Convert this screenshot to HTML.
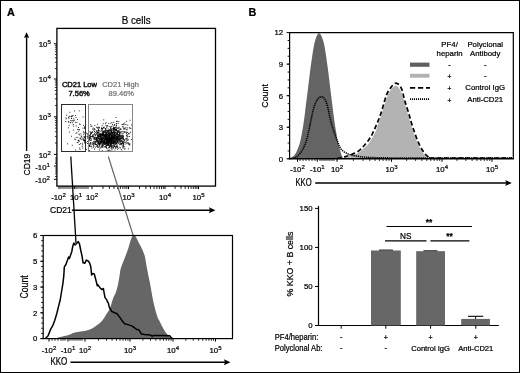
<!DOCTYPE html>
<html><head><meta charset="utf-8"><style>
html,body{margin:0;padding:0;background:#fff;}
body{width:520px;height:373px;overflow:hidden;}
svg{display:block;will-change:transform;}
text{font-family:"Liberation Sans",sans-serif;}
</style></head><body>
<svg width="520" height="373" viewBox="0 0 520 373" font-family="Liberation Sans, sans-serif">
<rect x="0.5" y="0.5" width="519" height="372" fill="#fff" stroke="#000" stroke-width="1"/>
<text x="7" y="15.5" font-size="10.8" text-anchor="start" font-weight="bold" fill="#000" stroke="#000" stroke-width="0.22" >A</text>
<text x="248.5" y="15.5" font-size="10.8" text-anchor="start" font-weight="bold" fill="#000" stroke="#000" stroke-width="0.22" >B</text>
<text transform="translate(121.7,23.5) scale(0.9,1)" font-size="10.9" text-anchor="start" font-weight="normal" fill="#000" stroke="#000" stroke-width="0.22">B cells</text>
<g fill="#000">
<rect x="104.3" y="140.8" width="0.9" height="0.9"/>
<rect x="104.6" y="136.3" width="0.9" height="0.9"/>
<rect x="98.5" y="136.8" width="0.9" height="0.9"/>
<rect x="116.1" y="140.3" width="0.9" height="0.9"/>
<rect x="115.4" y="139.3" width="0.9" height="0.9"/>
<rect x="109.9" y="139.0" width="0.9" height="0.9"/>
<rect x="92.2" y="142.6" width="0.9" height="0.9"/>
<rect x="110.9" y="140.7" width="0.9" height="0.9"/>
<rect x="92.0" y="128.6" width="0.9" height="0.9"/>
<rect x="98.8" y="135.5" width="0.9" height="0.9"/>
<rect x="109.1" y="137.8" width="0.9" height="0.9"/>
<rect x="111.0" y="134.5" width="0.9" height="0.9"/>
<rect x="109.2" y="140.1" width="0.9" height="0.9"/>
<rect x="100.8" y="147.3" width="0.9" height="0.9"/>
<rect x="111.3" y="144.5" width="0.9" height="0.9"/>
<rect x="101.2" y="134.0" width="0.9" height="0.9"/>
<rect x="103.5" y="137.4" width="0.9" height="0.9"/>
<rect x="111.9" y="139.3" width="0.9" height="0.9"/>
<rect x="102.7" y="132.8" width="0.9" height="0.9"/>
<rect x="102.0" y="144.6" width="0.9" height="0.9"/>
<rect x="99.6" y="139.3" width="0.9" height="0.9"/>
<rect x="110.2" y="130.0" width="0.9" height="0.9"/>
<rect x="106.9" y="145.1" width="0.9" height="0.9"/>
<rect x="89.2" y="136.3" width="0.9" height="0.9"/>
<rect x="105.6" y="133.6" width="0.9" height="0.9"/>
<rect x="110.8" y="137.7" width="0.9" height="0.9"/>
<rect x="93.9" y="142.5" width="0.9" height="0.9"/>
<rect x="112.3" y="143.1" width="0.9" height="0.9"/>
<rect x="118.9" y="140.0" width="0.9" height="0.9"/>
<rect x="107.5" y="131.0" width="0.9" height="0.9"/>
<rect x="111.8" y="134.7" width="0.9" height="0.9"/>
<rect x="102.6" y="131.2" width="0.9" height="0.9"/>
<rect x="98.2" y="135.1" width="0.9" height="0.9"/>
<rect x="117.6" y="127.0" width="0.9" height="0.9"/>
<rect x="94.0" y="139.3" width="0.9" height="0.9"/>
<rect x="118.9" y="141.1" width="0.9" height="0.9"/>
<rect x="90.2" y="124.4" width="0.9" height="0.9"/>
<rect x="109.6" y="134.0" width="0.9" height="0.9"/>
<rect x="96.9" y="143.3" width="0.9" height="0.9"/>
<rect x="116.0" y="138.8" width="0.9" height="0.9"/>
<rect x="108.6" y="140.3" width="0.9" height="0.9"/>
<rect x="120.2" y="141.3" width="0.9" height="0.9"/>
<rect x="111.0" y="141.0" width="0.9" height="0.9"/>
<rect x="93.0" y="144.9" width="0.9" height="0.9"/>
<rect x="114.7" y="140.9" width="0.9" height="0.9"/>
<rect x="89.5" y="134.6" width="0.9" height="0.9"/>
<rect x="113.7" y="128.2" width="0.9" height="0.9"/>
<rect x="104.9" y="143.5" width="0.9" height="0.9"/>
<rect x="95.2" y="146.7" width="0.9" height="0.9"/>
<rect x="111.2" y="137.2" width="0.9" height="0.9"/>
<rect x="109.3" y="141.5" width="0.9" height="0.9"/>
<rect x="107.5" y="144.2" width="0.9" height="0.9"/>
<rect x="100.8" y="135.8" width="0.9" height="0.9"/>
<rect x="115.5" y="138.1" width="0.9" height="0.9"/>
<rect x="98.9" y="143.1" width="0.9" height="0.9"/>
<rect x="119.1" y="135.6" width="0.9" height="0.9"/>
<rect x="94.6" y="137.3" width="0.9" height="0.9"/>
<rect x="105.2" y="136.4" width="0.9" height="0.9"/>
<rect x="118.6" y="132.5" width="0.9" height="0.9"/>
<rect x="117.3" y="131.2" width="0.9" height="0.9"/>
<rect x="99.7" y="141.4" width="0.9" height="0.9"/>
<rect x="116.2" y="142.6" width="0.9" height="0.9"/>
<rect x="109.5" y="138.8" width="0.9" height="0.9"/>
<rect x="107.8" y="141.1" width="0.9" height="0.9"/>
<rect x="105.0" y="139.5" width="0.9" height="0.9"/>
<rect x="111.4" y="138.0" width="0.9" height="0.9"/>
<rect x="113.1" y="141.1" width="0.9" height="0.9"/>
<rect x="123.8" y="139.8" width="0.9" height="0.9"/>
<rect x="102.8" y="136.0" width="0.9" height="0.9"/>
<rect x="106.4" y="143.0" width="0.9" height="0.9"/>
<rect x="103.6" y="140.1" width="0.9" height="0.9"/>
<rect x="122.3" y="124.2" width="0.9" height="0.9"/>
<rect x="96.8" y="139.3" width="0.9" height="0.9"/>
<rect x="109.9" y="139.3" width="0.9" height="0.9"/>
<rect x="102.8" y="141.5" width="0.9" height="0.9"/>
<rect x="108.9" y="135.2" width="0.9" height="0.9"/>
<rect x="127.4" y="139.9" width="0.9" height="0.9"/>
<rect x="101.7" y="137.5" width="0.9" height="0.9"/>
<rect x="104.6" y="137.7" width="0.9" height="0.9"/>
<rect x="115.2" y="131.7" width="0.9" height="0.9"/>
<rect x="105.9" y="143.1" width="0.9" height="0.9"/>
<rect x="113.9" y="146.1" width="0.9" height="0.9"/>
<rect x="91.9" y="136.1" width="0.9" height="0.9"/>
<rect x="103.6" y="141.4" width="0.9" height="0.9"/>
<rect x="115.9" y="123.5" width="0.9" height="0.9"/>
<rect x="115.9" y="130.2" width="0.9" height="0.9"/>
<rect x="112.4" y="129.9" width="0.9" height="0.9"/>
<rect x="108.0" y="144.5" width="0.9" height="0.9"/>
<rect x="105.2" y="139.0" width="0.9" height="0.9"/>
<rect x="113.4" y="138.8" width="0.9" height="0.9"/>
<rect x="105.7" y="146.3" width="0.9" height="0.9"/>
<rect x="115.5" y="136.4" width="0.9" height="0.9"/>
<rect x="130.1" y="131.8" width="0.9" height="0.9"/>
<rect x="114.4" y="136.6" width="0.9" height="0.9"/>
<rect x="107.6" y="141.8" width="0.9" height="0.9"/>
<rect x="108.4" y="141.4" width="0.9" height="0.9"/>
<rect x="93.4" y="129.8" width="0.9" height="0.9"/>
<rect x="111.8" y="132.8" width="0.9" height="0.9"/>
<rect x="97.7" y="130.1" width="0.9" height="0.9"/>
<rect x="117.4" y="142.0" width="0.9" height="0.9"/>
<rect x="119.2" y="132.9" width="0.9" height="0.9"/>
<rect x="106.5" y="131.8" width="0.9" height="0.9"/>
<rect x="113.1" y="146.6" width="0.9" height="0.9"/>
<rect x="98.8" y="146.4" width="0.9" height="0.9"/>
<rect x="115.0" y="137.0" width="0.9" height="0.9"/>
<rect x="89.5" y="145.6" width="0.9" height="0.9"/>
<rect x="105.7" y="134.7" width="0.9" height="0.9"/>
<rect x="109.9" y="140.2" width="0.9" height="0.9"/>
<rect x="119.4" y="132.5" width="0.9" height="0.9"/>
<rect x="116.3" y="146.0" width="0.9" height="0.9"/>
<rect x="119.0" y="137.0" width="0.9" height="0.9"/>
<rect x="100.1" y="143.5" width="0.9" height="0.9"/>
<rect x="107.5" y="138.7" width="0.9" height="0.9"/>
<rect x="118.7" y="136.6" width="0.9" height="0.9"/>
<rect x="86.7" y="135.9" width="0.9" height="0.9"/>
<rect x="90.6" y="142.4" width="0.9" height="0.9"/>
<rect x="109.2" y="134.7" width="0.9" height="0.9"/>
<rect x="106.4" y="142.5" width="0.9" height="0.9"/>
<rect x="107.2" y="145.2" width="0.9" height="0.9"/>
<rect x="106.0" y="143.6" width="0.9" height="0.9"/>
<rect x="119.3" y="146.7" width="0.9" height="0.9"/>
<rect x="100.7" y="142.8" width="0.9" height="0.9"/>
<rect x="90.4" y="132.1" width="0.9" height="0.9"/>
<rect x="89.6" y="143.8" width="0.9" height="0.9"/>
<rect x="95.9" y="137.9" width="0.9" height="0.9"/>
<rect x="104.8" y="137.8" width="0.9" height="0.9"/>
<rect x="101.4" y="139.3" width="0.9" height="0.9"/>
<rect x="121.9" y="138.2" width="0.9" height="0.9"/>
<rect x="111.1" y="143.4" width="0.9" height="0.9"/>
<rect x="104.8" y="131.2" width="0.9" height="0.9"/>
<rect x="101.7" y="143.8" width="0.9" height="0.9"/>
<rect x="92.3" y="134.8" width="0.9" height="0.9"/>
<rect x="115.2" y="142.3" width="0.9" height="0.9"/>
<rect x="106.6" y="142.3" width="0.9" height="0.9"/>
<rect x="107.9" y="131.6" width="0.9" height="0.9"/>
<rect x="93.1" y="134.5" width="0.9" height="0.9"/>
<rect x="114.4" y="134.9" width="0.9" height="0.9"/>
<rect x="98.7" y="133.8" width="0.9" height="0.9"/>
<rect x="93.3" y="137.4" width="0.9" height="0.9"/>
<rect x="96.4" y="140.0" width="0.9" height="0.9"/>
<rect x="101.0" y="127.5" width="0.9" height="0.9"/>
<rect x="112.7" y="136.5" width="0.9" height="0.9"/>
<rect x="87.3" y="133.3" width="0.9" height="0.9"/>
<rect x="109.0" y="135.5" width="0.9" height="0.9"/>
<rect x="113.2" y="142.0" width="0.9" height="0.9"/>
<rect x="112.2" y="139.8" width="0.9" height="0.9"/>
<rect x="118.0" y="141.6" width="0.9" height="0.9"/>
<rect x="110.4" y="126.7" width="0.9" height="0.9"/>
<rect x="114.2" y="145.1" width="0.9" height="0.9"/>
<rect x="103.9" y="135.5" width="0.9" height="0.9"/>
<rect x="123.2" y="128.5" width="0.9" height="0.9"/>
<rect x="110.5" y="151.1" width="0.9" height="0.9"/>
<rect x="98.5" y="141.7" width="0.9" height="0.9"/>
<rect x="122.7" y="137.4" width="0.9" height="0.9"/>
<rect x="111.3" y="142.9" width="0.9" height="0.9"/>
<rect x="98.7" y="137.5" width="0.9" height="0.9"/>
<rect x="109.0" y="142.5" width="0.9" height="0.9"/>
<rect x="106.2" y="136.9" width="0.9" height="0.9"/>
<rect x="97.8" y="136.1" width="0.9" height="0.9"/>
<rect x="114.2" y="138.5" width="0.9" height="0.9"/>
<rect x="99.2" y="133.5" width="0.9" height="0.9"/>
<rect x="129.4" y="144.2" width="0.9" height="0.9"/>
<rect x="112.0" y="124.0" width="0.9" height="0.9"/>
<rect x="111.8" y="140.6" width="0.9" height="0.9"/>
<rect x="121.0" y="140.3" width="0.9" height="0.9"/>
<rect x="105.9" y="140.8" width="0.9" height="0.9"/>
<rect x="89.8" y="143.6" width="0.9" height="0.9"/>
<rect x="109.3" y="134.2" width="0.9" height="0.9"/>
<rect x="117.9" y="147.8" width="0.9" height="0.9"/>
<rect x="94.4" y="134.4" width="0.9" height="0.9"/>
<rect x="109.0" y="139.0" width="0.9" height="0.9"/>
<rect x="103.1" y="132.7" width="0.9" height="0.9"/>
<rect x="124.7" y="143.6" width="0.9" height="0.9"/>
<rect x="96.2" y="130.7" width="0.9" height="0.9"/>
<rect x="121.1" y="143.3" width="0.9" height="0.9"/>
<rect x="122.2" y="142.4" width="0.9" height="0.9"/>
<rect x="99.0" y="139.4" width="0.9" height="0.9"/>
<rect x="87.9" y="134.0" width="0.9" height="0.9"/>
<rect x="106.0" y="140.8" width="0.9" height="0.9"/>
<rect x="100.2" y="137.3" width="0.9" height="0.9"/>
<rect x="110.4" y="140.0" width="0.9" height="0.9"/>
<rect x="112.0" y="139.1" width="0.9" height="0.9"/>
<rect x="103.7" y="142.3" width="0.9" height="0.9"/>
<rect x="106.9" y="133.5" width="0.9" height="0.9"/>
<rect x="101.1" y="138.0" width="0.9" height="0.9"/>
<rect x="105.6" y="138.8" width="0.9" height="0.9"/>
<rect x="106.5" y="138.9" width="0.9" height="0.9"/>
<rect x="105.3" y="131.2" width="0.9" height="0.9"/>
<rect x="110.1" y="143.7" width="0.9" height="0.9"/>
<rect x="110.2" y="137.0" width="0.9" height="0.9"/>
<rect x="110.3" y="132.8" width="0.9" height="0.9"/>
<rect x="90.2" y="138.3" width="0.9" height="0.9"/>
<rect x="98.5" y="142.0" width="0.9" height="0.9"/>
<rect x="97.2" y="123.8" width="0.9" height="0.9"/>
<rect x="97.6" y="146.5" width="0.9" height="0.9"/>
<rect x="103.2" y="130.6" width="0.9" height="0.9"/>
<rect x="99.9" y="140.8" width="0.9" height="0.9"/>
<rect x="110.8" y="139.0" width="0.9" height="0.9"/>
<rect x="119.3" y="141.8" width="0.9" height="0.9"/>
<rect x="106.3" y="141.2" width="0.9" height="0.9"/>
<rect x="120.7" y="143.2" width="0.9" height="0.9"/>
<rect x="115.3" y="132.2" width="0.9" height="0.9"/>
<rect x="105.2" y="141.9" width="0.9" height="0.9"/>
<rect x="104.0" y="143.8" width="0.9" height="0.9"/>
<rect x="111.6" y="142.9" width="0.9" height="0.9"/>
<rect x="117.2" y="136.8" width="0.9" height="0.9"/>
<rect x="103.5" y="142.7" width="0.9" height="0.9"/>
<rect x="114.9" y="138.0" width="0.9" height="0.9"/>
<rect x="96.5" y="139.0" width="0.9" height="0.9"/>
<rect x="109.6" y="144.1" width="0.9" height="0.9"/>
<rect x="113.2" y="138.1" width="0.9" height="0.9"/>
<rect x="113.8" y="140.9" width="0.9" height="0.9"/>
<rect x="108.3" y="138.3" width="0.9" height="0.9"/>
<rect x="104.4" y="141.7" width="0.9" height="0.9"/>
<rect x="97.4" y="134.6" width="0.9" height="0.9"/>
<rect x="106.5" y="130.1" width="0.9" height="0.9"/>
<rect x="102.8" y="127.2" width="0.9" height="0.9"/>
<rect x="100.6" y="141.1" width="0.9" height="0.9"/>
<rect x="111.4" y="137.7" width="0.9" height="0.9"/>
<rect x="104.5" y="130.3" width="0.9" height="0.9"/>
<rect x="122.2" y="140.8" width="0.9" height="0.9"/>
<rect x="115.9" y="133.2" width="0.9" height="0.9"/>
<rect x="104.9" y="128.2" width="0.9" height="0.9"/>
<rect x="113.2" y="143.0" width="0.9" height="0.9"/>
<rect x="90.2" y="137.7" width="0.9" height="0.9"/>
<rect x="111.9" y="128.5" width="0.9" height="0.9"/>
<rect x="90.8" y="132.2" width="0.9" height="0.9"/>
<rect x="101.1" y="130.4" width="0.9" height="0.9"/>
<rect x="106.8" y="139.3" width="0.9" height="0.9"/>
<rect x="112.0" y="141.8" width="0.9" height="0.9"/>
<rect x="119.4" y="144.3" width="0.9" height="0.9"/>
<rect x="95.2" y="135.3" width="0.9" height="0.9"/>
<rect x="97.4" y="132.2" width="0.9" height="0.9"/>
<rect x="105.8" y="138.0" width="0.9" height="0.9"/>
<rect x="110.7" y="129.4" width="0.9" height="0.9"/>
<rect x="95.9" y="137.9" width="0.9" height="0.9"/>
<rect x="104.8" y="136.3" width="0.9" height="0.9"/>
<rect x="106.0" y="133.9" width="0.9" height="0.9"/>
<rect x="112.5" y="139.9" width="0.9" height="0.9"/>
<rect x="105.7" y="134.4" width="0.9" height="0.9"/>
<rect x="105.0" y="123.3" width="0.9" height="0.9"/>
<rect x="98.1" y="138.2" width="0.9" height="0.9"/>
<rect x="93.6" y="139.1" width="0.9" height="0.9"/>
<rect x="107.8" y="130.6" width="0.9" height="0.9"/>
<rect x="104.3" y="136.3" width="0.9" height="0.9"/>
<rect x="110.5" y="141.3" width="0.9" height="0.9"/>
<rect x="106.2" y="133.4" width="0.9" height="0.9"/>
<rect x="105.3" y="137.6" width="0.9" height="0.9"/>
<rect x="112.8" y="139.6" width="0.9" height="0.9"/>
<rect x="100.3" y="130.7" width="0.9" height="0.9"/>
<rect x="103.3" y="134.0" width="0.9" height="0.9"/>
<rect x="96.9" y="137.4" width="0.9" height="0.9"/>
<rect x="102.3" y="138.6" width="0.9" height="0.9"/>
<rect x="111.0" y="135.8" width="0.9" height="0.9"/>
<rect x="126.5" y="136.3" width="0.9" height="0.9"/>
<rect x="116.0" y="138.7" width="0.9" height="0.9"/>
<rect x="116.1" y="125.2" width="0.9" height="0.9"/>
<rect x="100.0" y="139.3" width="0.9" height="0.9"/>
<rect x="111.7" y="150.6" width="0.9" height="0.9"/>
<rect x="109.3" y="144.9" width="0.9" height="0.9"/>
<rect x="113.1" y="143.1" width="0.9" height="0.9"/>
<rect x="110.9" y="137.2" width="0.9" height="0.9"/>
<rect x="110.9" y="132.2" width="0.9" height="0.9"/>
<rect x="116.7" y="132.5" width="0.9" height="0.9"/>
<rect x="108.6" y="149.5" width="0.9" height="0.9"/>
<rect x="104.6" y="138.1" width="0.9" height="0.9"/>
<rect x="116.5" y="138.1" width="0.9" height="0.9"/>
<rect x="99.6" y="139.4" width="0.9" height="0.9"/>
<rect x="111.5" y="141.8" width="0.9" height="0.9"/>
<rect x="99.9" y="147.5" width="0.9" height="0.9"/>
<rect x="120.8" y="138.1" width="0.9" height="0.9"/>
<rect x="108.8" y="135.7" width="0.9" height="0.9"/>
<rect x="118.7" y="134.2" width="0.9" height="0.9"/>
<rect x="112.3" y="135.4" width="0.9" height="0.9"/>
<rect x="100.5" y="141.9" width="0.9" height="0.9"/>
<rect x="118.0" y="137.9" width="0.9" height="0.9"/>
<rect x="100.7" y="142.4" width="0.9" height="0.9"/>
<rect x="106.1" y="139.7" width="0.9" height="0.9"/>
<rect x="119.6" y="144.1" width="0.9" height="0.9"/>
<rect x="102.0" y="150.3" width="0.9" height="0.9"/>
<rect x="106.5" y="142.2" width="0.9" height="0.9"/>
<rect x="100.9" y="137.8" width="0.9" height="0.9"/>
<rect x="91.5" y="147.6" width="0.9" height="0.9"/>
<rect x="118.2" y="131.4" width="0.9" height="0.9"/>
<rect x="93.6" y="129.2" width="0.9" height="0.9"/>
<rect x="116.6" y="135.5" width="0.9" height="0.9"/>
<rect x="106.0" y="136.3" width="0.9" height="0.9"/>
<rect x="105.5" y="132.1" width="0.9" height="0.9"/>
<rect x="106.7" y="130.2" width="0.9" height="0.9"/>
<rect x="105.9" y="139.7" width="0.9" height="0.9"/>
<rect x="110.5" y="136.7" width="0.9" height="0.9"/>
<rect x="98.7" y="138.9" width="0.9" height="0.9"/>
<rect x="102.3" y="146.5" width="0.9" height="0.9"/>
<rect x="113.1" y="137.4" width="0.9" height="0.9"/>
<rect x="102.4" y="134.2" width="0.9" height="0.9"/>
<rect x="98.4" y="136.1" width="0.9" height="0.9"/>
<rect x="109.0" y="140.8" width="0.9" height="0.9"/>
<rect x="111.4" y="149.3" width="0.9" height="0.9"/>
<rect x="100.4" y="138.1" width="0.9" height="0.9"/>
<rect x="130.5" y="127.9" width="0.9" height="0.9"/>
<rect x="102.0" y="138.9" width="0.9" height="0.9"/>
<rect x="107.8" y="140.2" width="0.9" height="0.9"/>
<rect x="104.4" y="140.0" width="0.9" height="0.9"/>
<rect x="107.0" y="142.2" width="0.9" height="0.9"/>
<rect x="90.2" y="133.2" width="0.9" height="0.9"/>
<rect x="106.5" y="132.4" width="0.9" height="0.9"/>
<rect x="97.5" y="141.4" width="0.9" height="0.9"/>
<rect x="100.9" y="141.4" width="0.9" height="0.9"/>
<rect x="112.9" y="139.7" width="0.9" height="0.9"/>
<rect x="110.9" y="137.4" width="0.9" height="0.9"/>
<rect x="94.4" y="137.8" width="0.9" height="0.9"/>
<rect x="110.4" y="135.1" width="0.9" height="0.9"/>
<rect x="105.6" y="142.0" width="0.9" height="0.9"/>
<rect x="98.9" y="141.5" width="0.9" height="0.9"/>
<rect x="122.5" y="135.0" width="0.9" height="0.9"/>
<rect x="107.8" y="137.2" width="0.9" height="0.9"/>
<rect x="119.7" y="139.7" width="0.9" height="0.9"/>
<rect x="114.2" y="134.3" width="0.9" height="0.9"/>
<rect x="106.4" y="137.9" width="0.9" height="0.9"/>
<rect x="91.2" y="145.8" width="0.9" height="0.9"/>
<rect x="114.2" y="128.6" width="0.9" height="0.9"/>
<rect x="112.9" y="137.3" width="0.9" height="0.9"/>
<rect x="110.4" y="140.0" width="0.9" height="0.9"/>
<rect x="93.6" y="136.9" width="0.9" height="0.9"/>
<rect x="119.3" y="134.9" width="0.9" height="0.9"/>
<rect x="97.7" y="130.7" width="0.9" height="0.9"/>
<rect x="96.0" y="139.8" width="0.9" height="0.9"/>
<rect x="121.1" y="140.3" width="0.9" height="0.9"/>
<rect x="108.6" y="150.1" width="0.9" height="0.9"/>
<rect x="102.0" y="134.4" width="0.9" height="0.9"/>
<rect x="111.0" y="141.0" width="0.9" height="0.9"/>
<rect x="97.8" y="131.7" width="0.9" height="0.9"/>
<rect x="109.0" y="139.3" width="0.9" height="0.9"/>
<rect x="95.3" y="136.9" width="0.9" height="0.9"/>
<rect x="101.8" y="140.5" width="0.9" height="0.9"/>
<rect x="105.5" y="137.5" width="0.9" height="0.9"/>
<rect x="103.5" y="143.7" width="0.9" height="0.9"/>
<rect x="118.5" y="136.0" width="0.9" height="0.9"/>
<rect x="113.8" y="133.9" width="0.9" height="0.9"/>
<rect x="107.1" y="142.0" width="0.9" height="0.9"/>
<rect x="119.5" y="135.9" width="0.9" height="0.9"/>
<rect x="105.9" y="139.1" width="0.9" height="0.9"/>
<rect x="93.6" y="138.1" width="0.9" height="0.9"/>
<rect x="100.7" y="140.0" width="0.9" height="0.9"/>
<rect x="96.8" y="127.3" width="0.9" height="0.9"/>
<rect x="106.8" y="139.4" width="0.9" height="0.9"/>
<rect x="101.8" y="142.8" width="0.9" height="0.9"/>
<rect x="104.2" y="134.7" width="0.9" height="0.9"/>
<rect x="110.6" y="129.5" width="0.9" height="0.9"/>
<rect x="100.7" y="137.9" width="0.9" height="0.9"/>
<rect x="113.8" y="137.1" width="0.9" height="0.9"/>
<rect x="109.2" y="134.5" width="0.9" height="0.9"/>
<rect x="109.1" y="147.0" width="0.9" height="0.9"/>
<rect x="100.6" y="150.8" width="0.9" height="0.9"/>
<rect x="101.0" y="138.1" width="0.9" height="0.9"/>
<rect x="108.0" y="143.5" width="0.9" height="0.9"/>
<rect x="95.9" y="126.7" width="0.9" height="0.9"/>
<rect x="111.7" y="142.3" width="0.9" height="0.9"/>
<rect x="108.3" y="139.4" width="0.9" height="0.9"/>
<rect x="114.5" y="140.0" width="0.9" height="0.9"/>
<rect x="120.8" y="131.3" width="0.9" height="0.9"/>
<rect x="103.3" y="119.4" width="0.9" height="0.9"/>
<rect x="113.5" y="136.0" width="0.9" height="0.9"/>
<rect x="114.4" y="149.6" width="0.9" height="0.9"/>
<rect x="106.4" y="136.6" width="0.9" height="0.9"/>
<rect x="102.2" y="133.5" width="0.9" height="0.9"/>
<rect x="101.1" y="141.5" width="0.9" height="0.9"/>
<rect x="106.8" y="138.4" width="0.9" height="0.9"/>
<rect x="105.0" y="142.9" width="0.9" height="0.9"/>
<rect x="110.7" y="137.2" width="0.9" height="0.9"/>
<rect x="112.2" y="137.2" width="0.9" height="0.9"/>
<rect x="96.6" y="145.9" width="0.9" height="0.9"/>
<rect x="110.5" y="132.8" width="0.9" height="0.9"/>
<rect x="115.8" y="139.9" width="0.9" height="0.9"/>
<rect x="93.0" y="146.7" width="0.9" height="0.9"/>
<rect x="109.4" y="142.8" width="0.9" height="0.9"/>
<rect x="108.2" y="137.2" width="0.9" height="0.9"/>
<rect x="93.2" y="143.2" width="0.9" height="0.9"/>
<rect x="106.8" y="136.5" width="0.9" height="0.9"/>
<rect x="109.5" y="138.4" width="0.9" height="0.9"/>
<rect x="112.3" y="136.0" width="0.9" height="0.9"/>
<rect x="106.2" y="126.4" width="0.9" height="0.9"/>
<rect x="102.9" y="141.6" width="0.9" height="0.9"/>
<rect x="118.0" y="136.0" width="0.9" height="0.9"/>
<rect x="105.5" y="146.6" width="0.9" height="0.9"/>
<rect x="103.7" y="142.0" width="0.9" height="0.9"/>
<rect x="120.9" y="138.2" width="0.9" height="0.9"/>
<rect x="117.1" y="134.2" width="0.9" height="0.9"/>
<rect x="108.3" y="137.6" width="0.9" height="0.9"/>
<rect x="107.5" y="144.1" width="0.9" height="0.9"/>
<rect x="127.1" y="134.4" width="0.9" height="0.9"/>
<rect x="101.6" y="140.7" width="0.9" height="0.9"/>
<rect x="97.4" y="140.7" width="0.9" height="0.9"/>
<rect x="111.4" y="136.5" width="0.9" height="0.9"/>
<rect x="111.1" y="129.6" width="0.9" height="0.9"/>
<rect x="113.0" y="129.7" width="0.9" height="0.9"/>
<rect x="100.5" y="135.0" width="0.9" height="0.9"/>
<rect x="103.1" y="142.6" width="0.9" height="0.9"/>
<rect x="107.2" y="135.9" width="0.9" height="0.9"/>
<rect x="111.2" y="146.5" width="0.9" height="0.9"/>
<rect x="106.6" y="140.0" width="0.9" height="0.9"/>
<rect x="117.2" y="139.4" width="0.9" height="0.9"/>
<rect x="125.5" y="127.3" width="0.9" height="0.9"/>
<rect x="106.2" y="140.3" width="0.9" height="0.9"/>
<rect x="114.8" y="141.6" width="0.9" height="0.9"/>
<rect x="104.2" y="132.3" width="0.9" height="0.9"/>
<rect x="107.4" y="143.6" width="0.9" height="0.9"/>
<rect x="97.1" y="132.5" width="0.9" height="0.9"/>
<rect x="106.3" y="127.5" width="0.9" height="0.9"/>
<rect x="104.3" y="135.6" width="0.9" height="0.9"/>
<rect x="110.4" y="134.2" width="0.9" height="0.9"/>
<rect x="98.9" y="135.9" width="0.9" height="0.9"/>
<rect x="106.1" y="134.4" width="0.9" height="0.9"/>
<rect x="106.6" y="142.1" width="0.9" height="0.9"/>
<rect x="116.7" y="147.2" width="0.9" height="0.9"/>
<rect x="99.8" y="135.7" width="0.9" height="0.9"/>
<rect x="100.3" y="137.8" width="0.9" height="0.9"/>
<rect x="111.0" y="130.7" width="0.9" height="0.9"/>
<rect x="110.5" y="137.9" width="0.9" height="0.9"/>
<rect x="90.8" y="139.6" width="0.9" height="0.9"/>
<rect x="116.8" y="127.9" width="0.9" height="0.9"/>
<rect x="113.4" y="139.1" width="0.9" height="0.9"/>
<rect x="110.6" y="140.4" width="0.9" height="0.9"/>
<rect x="117.7" y="136.8" width="0.9" height="0.9"/>
<rect x="114.0" y="135.8" width="0.9" height="0.9"/>
<rect x="112.8" y="133.6" width="0.9" height="0.9"/>
<rect x="105.6" y="147.3" width="0.9" height="0.9"/>
<rect x="110.3" y="137.1" width="0.9" height="0.9"/>
<rect x="96.7" y="133.7" width="0.9" height="0.9"/>
<rect x="108.2" y="143.1" width="0.9" height="0.9"/>
<rect x="110.2" y="140.8" width="0.9" height="0.9"/>
<rect x="106.1" y="145.3" width="0.9" height="0.9"/>
<rect x="103.1" y="135.0" width="0.9" height="0.9"/>
<rect x="114.1" y="138.3" width="0.9" height="0.9"/>
<rect x="104.1" y="134.9" width="0.9" height="0.9"/>
<rect x="104.3" y="141.4" width="0.9" height="0.9"/>
<rect x="109.5" y="131.5" width="0.9" height="0.9"/>
<rect x="110.2" y="139.0" width="0.9" height="0.9"/>
<rect x="97.9" y="142.2" width="0.9" height="0.9"/>
<rect x="104.1" y="136.2" width="0.9" height="0.9"/>
<rect x="113.3" y="145.1" width="0.9" height="0.9"/>
<rect x="100.6" y="140.4" width="0.9" height="0.9"/>
<rect x="99.0" y="150.5" width="0.9" height="0.9"/>
<rect x="102.3" y="144.5" width="0.9" height="0.9"/>
<rect x="100.9" y="142.4" width="0.9" height="0.9"/>
<rect x="125.6" y="124.3" width="0.9" height="0.9"/>
<rect x="102.8" y="140.7" width="0.9" height="0.9"/>
<rect x="105.7" y="134.4" width="0.9" height="0.9"/>
<rect x="125.0" y="138.4" width="0.9" height="0.9"/>
<rect x="92.4" y="142.6" width="0.9" height="0.9"/>
<rect x="91.7" y="144.2" width="0.9" height="0.9"/>
<rect x="101.5" y="138.8" width="0.9" height="0.9"/>
<rect x="117.3" y="138.6" width="0.9" height="0.9"/>
<rect x="94.5" y="128.8" width="0.9" height="0.9"/>
<rect x="116.7" y="142.0" width="0.9" height="0.9"/>
<rect x="99.5" y="142.6" width="0.9" height="0.9"/>
<rect x="110.8" y="141.5" width="0.9" height="0.9"/>
<rect x="87.1" y="136.4" width="0.9" height="0.9"/>
<rect x="114.2" y="142.0" width="0.9" height="0.9"/>
<rect x="114.1" y="124.7" width="0.9" height="0.9"/>
<rect x="108.0" y="140.7" width="0.9" height="0.9"/>
<rect x="128.4" y="132.8" width="0.9" height="0.9"/>
<rect x="103.7" y="138.2" width="0.9" height="0.9"/>
<rect x="114.1" y="135.6" width="0.9" height="0.9"/>
<rect x="116.4" y="133.7" width="0.9" height="0.9"/>
<rect x="108.8" y="135.2" width="0.9" height="0.9"/>
<rect x="107.9" y="134.3" width="0.9" height="0.9"/>
<rect x="92.8" y="143.9" width="0.9" height="0.9"/>
<rect x="109.1" y="135.0" width="0.9" height="0.9"/>
<rect x="108.2" y="143.3" width="0.9" height="0.9"/>
<rect x="98.1" y="137.4" width="0.9" height="0.9"/>
<rect x="111.1" y="140.8" width="0.9" height="0.9"/>
<rect x="103.6" y="126.6" width="0.9" height="0.9"/>
<rect x="117.2" y="139.8" width="0.9" height="0.9"/>
<rect x="106.6" y="136.5" width="0.9" height="0.9"/>
<rect x="108.8" y="135.7" width="0.9" height="0.9"/>
<rect x="97.7" y="134.0" width="0.9" height="0.9"/>
<rect x="101.4" y="134.7" width="0.9" height="0.9"/>
<rect x="96.5" y="141.4" width="0.9" height="0.9"/>
<rect x="95.2" y="141.6" width="0.9" height="0.9"/>
<rect x="97.8" y="139.9" width="0.9" height="0.9"/>
<rect x="118.3" y="139.1" width="0.9" height="0.9"/>
<rect x="100.2" y="138.3" width="0.9" height="0.9"/>
<rect x="107.8" y="128.6" width="0.9" height="0.9"/>
<rect x="101.3" y="138.9" width="0.9" height="0.9"/>
<rect x="102.5" y="138.4" width="0.9" height="0.9"/>
<rect x="112.8" y="142.1" width="0.9" height="0.9"/>
<rect x="114.3" y="141.2" width="0.9" height="0.9"/>
<rect x="104.0" y="137.9" width="0.9" height="0.9"/>
<rect x="104.2" y="136.3" width="0.9" height="0.9"/>
<rect x="105.0" y="128.7" width="0.9" height="0.9"/>
<rect x="103.6" y="137.9" width="0.9" height="0.9"/>
<rect x="98.1" y="137.9" width="0.9" height="0.9"/>
<rect x="110.9" y="137.1" width="0.9" height="0.9"/>
<rect x="124.4" y="123.9" width="0.9" height="0.9"/>
<rect x="104.7" y="128.1" width="0.9" height="0.9"/>
<rect x="111.0" y="136.4" width="0.9" height="0.9"/>
<rect x="111.2" y="125.9" width="0.9" height="0.9"/>
<rect x="113.8" y="140.0" width="0.9" height="0.9"/>
<rect x="106.7" y="134.8" width="0.9" height="0.9"/>
<rect x="112.0" y="135.4" width="0.9" height="0.9"/>
<rect x="108.4" y="135.2" width="0.9" height="0.9"/>
<rect x="87.2" y="137.8" width="0.9" height="0.9"/>
<rect x="108.2" y="142.1" width="0.9" height="0.9"/>
<rect x="99.0" y="137.8" width="0.9" height="0.9"/>
<rect x="111.8" y="138.8" width="0.9" height="0.9"/>
<rect x="117.2" y="148.8" width="0.9" height="0.9"/>
<rect x="98.7" y="127.6" width="0.9" height="0.9"/>
<rect x="113.9" y="146.3" width="0.9" height="0.9"/>
<rect x="114.4" y="142.4" width="0.9" height="0.9"/>
<rect x="101.2" y="134.1" width="0.9" height="0.9"/>
<rect x="114.1" y="133.1" width="0.9" height="0.9"/>
<rect x="90.9" y="132.6" width="0.9" height="0.9"/>
<rect x="127.9" y="148.4" width="0.9" height="0.9"/>
<rect x="100.6" y="134.1" width="0.9" height="0.9"/>
<rect x="108.5" y="134.0" width="0.9" height="0.9"/>
<rect x="117.8" y="137.6" width="0.9" height="0.9"/>
<rect x="97.2" y="145.1" width="0.9" height="0.9"/>
<rect x="101.5" y="139.2" width="0.9" height="0.9"/>
<rect x="106.4" y="136.3" width="0.9" height="0.9"/>
<rect x="109.3" y="134.3" width="0.9" height="0.9"/>
<rect x="90.6" y="126.1" width="0.9" height="0.9"/>
<rect x="95.6" y="133.9" width="0.9" height="0.9"/>
<rect x="106.3" y="138.3" width="0.9" height="0.9"/>
<rect x="111.3" y="138.6" width="0.9" height="0.9"/>
<rect x="99.7" y="134.2" width="0.9" height="0.9"/>
<rect x="88.3" y="137.1" width="0.9" height="0.9"/>
<rect x="110.7" y="140.9" width="0.9" height="0.9"/>
<rect x="105.5" y="137.1" width="0.9" height="0.9"/>
<rect x="114.6" y="138.1" width="0.9" height="0.9"/>
<rect x="112.8" y="141.1" width="0.9" height="0.9"/>
<rect x="108.3" y="145.1" width="0.9" height="0.9"/>
<rect x="101.6" y="136.1" width="0.9" height="0.9"/>
<rect x="99.6" y="133.7" width="0.9" height="0.9"/>
<rect x="119.9" y="147.5" width="0.9" height="0.9"/>
<rect x="106.7" y="141.1" width="0.9" height="0.9"/>
<rect x="116.6" y="142.4" width="0.9" height="0.9"/>
<rect x="116.9" y="131.2" width="0.9" height="0.9"/>
<rect x="101.0" y="140.4" width="0.9" height="0.9"/>
<rect x="118.8" y="138.6" width="0.9" height="0.9"/>
<rect x="99.1" y="136.1" width="0.9" height="0.9"/>
<rect x="100.8" y="133.4" width="0.9" height="0.9"/>
<rect x="119.4" y="134.6" width="0.9" height="0.9"/>
<rect x="106.7" y="149.7" width="0.9" height="0.9"/>
<rect x="116.7" y="139.8" width="0.9" height="0.9"/>
<rect x="101.2" y="140.2" width="0.9" height="0.9"/>
<rect x="120.4" y="141.4" width="0.9" height="0.9"/>
<rect x="117.3" y="138.5" width="0.9" height="0.9"/>
<rect x="110.9" y="136.9" width="0.9" height="0.9"/>
<rect x="110.2" y="145.0" width="0.9" height="0.9"/>
<rect x="94.2" y="137.7" width="0.9" height="0.9"/>
<rect x="108.6" y="134.9" width="0.9" height="0.9"/>
<rect x="103.9" y="142.2" width="0.9" height="0.9"/>
<rect x="123.7" y="141.4" width="0.9" height="0.9"/>
<rect x="109.3" y="129.6" width="0.9" height="0.9"/>
<rect x="123.1" y="138.4" width="0.9" height="0.9"/>
<rect x="106.2" y="132.0" width="0.9" height="0.9"/>
<rect x="106.0" y="132.1" width="0.9" height="0.9"/>
<rect x="107.1" y="140.5" width="0.9" height="0.9"/>
<rect x="106.8" y="139.5" width="0.9" height="0.9"/>
<rect x="99.2" y="145.7" width="0.9" height="0.9"/>
<rect x="100.9" y="128.2" width="0.9" height="0.9"/>
<rect x="104.9" y="133.9" width="0.9" height="0.9"/>
<rect x="97.8" y="136.1" width="0.9" height="0.9"/>
<rect x="109.0" y="131.6" width="0.9" height="0.9"/>
<rect x="105.3" y="145.7" width="0.9" height="0.9"/>
<rect x="112.4" y="137.2" width="0.9" height="0.9"/>
<rect x="107.6" y="137.4" width="0.9" height="0.9"/>
<rect x="106.1" y="142.0" width="0.9" height="0.9"/>
<rect x="105.7" y="125.0" width="0.9" height="0.9"/>
<rect x="106.3" y="133.2" width="0.9" height="0.9"/>
<rect x="112.1" y="134.7" width="0.9" height="0.9"/>
<rect x="107.8" y="149.8" width="0.9" height="0.9"/>
<rect x="97.5" y="131.9" width="0.9" height="0.9"/>
<rect x="94.4" y="125.1" width="0.9" height="0.9"/>
<rect x="90.3" y="140.0" width="0.9" height="0.9"/>
<rect x="101.0" y="127.9" width="0.9" height="0.9"/>
<rect x="93.7" y="141.3" width="0.9" height="0.9"/>
<rect x="99.8" y="136.0" width="0.9" height="0.9"/>
<rect x="109.3" y="145.3" width="0.9" height="0.9"/>
<rect x="123.2" y="143.6" width="0.9" height="0.9"/>
<rect x="107.7" y="139.0" width="0.9" height="0.9"/>
<rect x="122.0" y="145.7" width="0.9" height="0.9"/>
<rect x="103.8" y="140.5" width="0.9" height="0.9"/>
<rect x="109.0" y="138.3" width="0.9" height="0.9"/>
<rect x="102.2" y="130.8" width="0.9" height="0.9"/>
<rect x="101.9" y="129.7" width="0.9" height="0.9"/>
<rect x="117.0" y="140.9" width="0.9" height="0.9"/>
<rect x="96.1" y="145.5" width="0.9" height="0.9"/>
<rect x="114.2" y="127.7" width="0.9" height="0.9"/>
<rect x="122.3" y="142.4" width="0.9" height="0.9"/>
<rect x="124.3" y="131.4" width="0.9" height="0.9"/>
<rect x="111.1" y="140.3" width="0.9" height="0.9"/>
<rect x="108.2" y="138.9" width="0.9" height="0.9"/>
<rect x="115.6" y="129.9" width="0.9" height="0.9"/>
<rect x="95.8" y="130.5" width="0.9" height="0.9"/>
<rect x="101.7" y="134.7" width="0.9" height="0.9"/>
<rect x="109.7" y="139.4" width="0.9" height="0.9"/>
<rect x="106.8" y="134.3" width="0.9" height="0.9"/>
<rect x="102.7" y="143.1" width="0.9" height="0.9"/>
<rect x="113.1" y="138.5" width="0.9" height="0.9"/>
<rect x="103.7" y="146.4" width="0.9" height="0.9"/>
<rect x="101.4" y="141.5" width="0.9" height="0.9"/>
<rect x="116.4" y="136.6" width="0.9" height="0.9"/>
<rect x="113.6" y="132.0" width="0.9" height="0.9"/>
<rect x="115.2" y="139.1" width="0.9" height="0.9"/>
<rect x="92.9" y="141.6" width="0.9" height="0.9"/>
<rect x="98.8" y="144.9" width="0.9" height="0.9"/>
<rect x="100.7" y="137.1" width="0.9" height="0.9"/>
<rect x="108.9" y="136.2" width="0.9" height="0.9"/>
<rect x="108.7" y="135.0" width="0.9" height="0.9"/>
<rect x="112.3" y="138.0" width="0.9" height="0.9"/>
<rect x="108.3" y="123.1" width="0.9" height="0.9"/>
<rect x="116.5" y="138.2" width="0.9" height="0.9"/>
<rect x="91.2" y="138.5" width="0.9" height="0.9"/>
<rect x="110.5" y="143.8" width="0.9" height="0.9"/>
<rect x="97.2" y="146.4" width="0.9" height="0.9"/>
<rect x="105.1" y="150.9" width="0.9" height="0.9"/>
<rect x="105.2" y="141.7" width="0.9" height="0.9"/>
<rect x="103.3" y="132.0" width="0.9" height="0.9"/>
<rect x="115.9" y="142.9" width="0.9" height="0.9"/>
<rect x="119.7" y="142.6" width="0.9" height="0.9"/>
<rect x="101.6" y="129.0" width="0.9" height="0.9"/>
<rect x="100.9" y="134.4" width="0.9" height="0.9"/>
<rect x="99.5" y="141.1" width="0.9" height="0.9"/>
<rect x="109.3" y="136.5" width="0.9" height="0.9"/>
<rect x="108.0" y="137.2" width="0.9" height="0.9"/>
<rect x="108.3" y="142.1" width="0.9" height="0.9"/>
<rect x="114.8" y="134.3" width="0.9" height="0.9"/>
<rect x="93.5" y="145.7" width="0.9" height="0.9"/>
<rect x="107.5" y="144.0" width="0.9" height="0.9"/>
<rect x="92.4" y="136.2" width="0.9" height="0.9"/>
<rect x="106.7" y="130.2" width="0.9" height="0.9"/>
<rect x="102.1" y="141.9" width="0.9" height="0.9"/>
<rect x="115.8" y="146.6" width="0.9" height="0.9"/>
<rect x="99.1" y="130.4" width="0.9" height="0.9"/>
<rect x="111.0" y="143.1" width="0.9" height="0.9"/>
<rect x="108.2" y="131.0" width="0.9" height="0.9"/>
<rect x="113.2" y="142.3" width="0.9" height="0.9"/>
<rect x="111.3" y="135.4" width="0.9" height="0.9"/>
<rect x="109.1" y="142.3" width="0.9" height="0.9"/>
<rect x="101.7" y="128.0" width="0.9" height="0.9"/>
<rect x="109.3" y="140.6" width="0.9" height="0.9"/>
<rect x="106.6" y="142.8" width="0.9" height="0.9"/>
<rect x="101.5" y="137.6" width="0.9" height="0.9"/>
<rect x="103.9" y="141.1" width="0.9" height="0.9"/>
<rect x="120.2" y="136.6" width="0.9" height="0.9"/>
<rect x="124.2" y="146.3" width="0.9" height="0.9"/>
<rect x="113.3" y="141.2" width="0.9" height="0.9"/>
<rect x="121.7" y="137.0" width="0.9" height="0.9"/>
<rect x="105.5" y="132.3" width="0.9" height="0.9"/>
<rect x="110.6" y="145.3" width="0.9" height="0.9"/>
<rect x="111.1" y="140.3" width="0.9" height="0.9"/>
<rect x="104.8" y="138.9" width="0.9" height="0.9"/>
<rect x="94.2" y="143.7" width="0.9" height="0.9"/>
<rect x="103.0" y="132.0" width="0.9" height="0.9"/>
<rect x="100.0" y="133.5" width="0.9" height="0.9"/>
<rect x="113.9" y="143.7" width="0.9" height="0.9"/>
<rect x="94.8" y="143.0" width="0.9" height="0.9"/>
<rect x="114.1" y="134.9" width="0.9" height="0.9"/>
<rect x="93.7" y="134.0" width="0.9" height="0.9"/>
<rect x="101.0" y="139.8" width="0.9" height="0.9"/>
<rect x="103.4" y="127.0" width="0.9" height="0.9"/>
<rect x="108.5" y="129.7" width="0.9" height="0.9"/>
<rect x="114.3" y="131.5" width="0.9" height="0.9"/>
<rect x="100.5" y="133.4" width="0.9" height="0.9"/>
<rect x="101.8" y="145.0" width="0.9" height="0.9"/>
<rect x="113.8" y="141.2" width="0.9" height="0.9"/>
<rect x="109.2" y="129.6" width="0.9" height="0.9"/>
<rect x="102.0" y="135.0" width="0.9" height="0.9"/>
<rect x="98.1" y="140.7" width="0.9" height="0.9"/>
<rect x="100.1" y="134.2" width="0.9" height="0.9"/>
<rect x="97.5" y="126.9" width="0.9" height="0.9"/>
<rect x="111.6" y="145.2" width="0.9" height="0.9"/>
<rect x="108.0" y="132.7" width="0.9" height="0.9"/>
<rect x="117.0" y="139.6" width="0.9" height="0.9"/>
<rect x="114.5" y="146.0" width="0.9" height="0.9"/>
<rect x="116.2" y="135.6" width="0.9" height="0.9"/>
<rect x="115.6" y="142.2" width="0.9" height="0.9"/>
<rect x="93.3" y="135.8" width="0.9" height="0.9"/>
<rect x="94.3" y="137.4" width="0.9" height="0.9"/>
<rect x="111.5" y="132.2" width="0.9" height="0.9"/>
<rect x="88.8" y="145.0" width="0.9" height="0.9"/>
<rect x="109.7" y="145.9" width="0.9" height="0.9"/>
<rect x="95.1" y="143.7" width="0.9" height="0.9"/>
<rect x="124.3" y="148.8" width="0.9" height="0.9"/>
<rect x="104.7" y="139.5" width="0.9" height="0.9"/>
<rect x="105.2" y="143.4" width="0.9" height="0.9"/>
<rect x="115.4" y="138.5" width="0.9" height="0.9"/>
<rect x="94.8" y="142.0" width="0.9" height="0.9"/>
<rect x="102.5" y="141.4" width="0.9" height="0.9"/>
<rect x="108.8" y="146.8" width="0.9" height="0.9"/>
<rect x="116.3" y="135.6" width="0.9" height="0.9"/>
<rect x="109.5" y="147.5" width="0.9" height="0.9"/>
<rect x="101.9" y="140.3" width="0.9" height="0.9"/>
<rect x="116.7" y="144.8" width="0.9" height="0.9"/>
<rect x="111.0" y="130.9" width="0.9" height="0.9"/>
<rect x="95.7" y="139.3" width="0.9" height="0.9"/>
<rect x="99.1" y="144.1" width="0.9" height="0.9"/>
<rect x="113.1" y="129.0" width="0.9" height="0.9"/>
<rect x="99.5" y="138.9" width="0.9" height="0.9"/>
<rect x="102.3" y="137.2" width="0.9" height="0.9"/>
<rect x="110.5" y="133.6" width="0.9" height="0.9"/>
<rect x="110.5" y="134.6" width="0.9" height="0.9"/>
<rect x="101.8" y="140.9" width="0.9" height="0.9"/>
<rect x="101.6" y="139.6" width="0.9" height="0.9"/>
<rect x="120.3" y="138.1" width="0.9" height="0.9"/>
<rect x="105.2" y="142.0" width="0.9" height="0.9"/>
<rect x="103.4" y="143.8" width="0.9" height="0.9"/>
<rect x="95.5" y="141.3" width="0.9" height="0.9"/>
<rect x="102.1" y="133.7" width="0.9" height="0.9"/>
<rect x="121.7" y="133.4" width="0.9" height="0.9"/>
<rect x="121.6" y="141.6" width="0.9" height="0.9"/>
<rect x="119.0" y="132.7" width="0.9" height="0.9"/>
<rect x="116.8" y="145.9" width="0.9" height="0.9"/>
<rect x="105.5" y="137.3" width="0.9" height="0.9"/>
<rect x="127.6" y="139.0" width="0.9" height="0.9"/>
<rect x="102.9" y="134.6" width="0.9" height="0.9"/>
<rect x="110.3" y="139.8" width="0.9" height="0.9"/>
<rect x="108.0" y="147.3" width="0.9" height="0.9"/>
<rect x="103.7" y="140.6" width="0.9" height="0.9"/>
<rect x="119.0" y="132.6" width="0.9" height="0.9"/>
<rect x="115.4" y="147.9" width="0.9" height="0.9"/>
<rect x="94.8" y="132.1" width="0.9" height="0.9"/>
<rect x="97.6" y="128.0" width="0.9" height="0.9"/>
<rect x="110.4" y="128.0" width="0.9" height="0.9"/>
<rect x="110.8" y="145.8" width="0.9" height="0.9"/>
<rect x="92.6" y="136.3" width="0.9" height="0.9"/>
<rect x="90.0" y="142.2" width="0.9" height="0.9"/>
<rect x="100.2" y="136.6" width="0.9" height="0.9"/>
<rect x="107.0" y="140.9" width="0.9" height="0.9"/>
<rect x="103.5" y="138.1" width="0.9" height="0.9"/>
<rect x="101.8" y="138.6" width="0.9" height="0.9"/>
<rect x="96.4" y="138.3" width="0.9" height="0.9"/>
<rect x="89.9" y="135.4" width="0.9" height="0.9"/>
<rect x="123.0" y="138.4" width="0.9" height="0.9"/>
<rect x="95.7" y="139.4" width="0.9" height="0.9"/>
<rect x="98.1" y="129.1" width="0.9" height="0.9"/>
<rect x="100.2" y="142.0" width="0.9" height="0.9"/>
<rect x="109.8" y="137.5" width="0.9" height="0.9"/>
<rect x="98.5" y="132.2" width="0.9" height="0.9"/>
<rect x="118.1" y="139.3" width="0.9" height="0.9"/>
<rect x="98.3" y="126.6" width="0.9" height="0.9"/>
<rect x="96.6" y="137.6" width="0.9" height="0.9"/>
<rect x="108.3" y="137.1" width="0.9" height="0.9"/>
<rect x="104.1" y="130.6" width="0.9" height="0.9"/>
<rect x="97.5" y="147.1" width="0.9" height="0.9"/>
<rect x="100.0" y="142.6" width="0.9" height="0.9"/>
<rect x="91.9" y="136.5" width="0.9" height="0.9"/>
<rect x="108.7" y="143.6" width="0.9" height="0.9"/>
<rect x="96.8" y="141.2" width="0.9" height="0.9"/>
<rect x="109.8" y="134.0" width="0.9" height="0.9"/>
<rect x="110.6" y="133.2" width="0.9" height="0.9"/>
<rect x="99.7" y="137.9" width="0.9" height="0.9"/>
<rect x="97.9" y="130.1" width="0.9" height="0.9"/>
<rect x="102.8" y="142.1" width="0.9" height="0.9"/>
<rect x="103.0" y="144.8" width="0.9" height="0.9"/>
<rect x="96.5" y="130.9" width="0.9" height="0.9"/>
<rect x="119.8" y="140.2" width="0.9" height="0.9"/>
<rect x="114.6" y="133.5" width="0.9" height="0.9"/>
<rect x="113.4" y="139.4" width="0.9" height="0.9"/>
<rect x="112.1" y="138.1" width="0.9" height="0.9"/>
<rect x="116.9" y="134.5" width="0.9" height="0.9"/>
<rect x="98.2" y="130.0" width="0.9" height="0.9"/>
<rect x="116.5" y="134.0" width="0.9" height="0.9"/>
<rect x="97.5" y="132.9" width="0.9" height="0.9"/>
<rect x="102.7" y="131.1" width="0.9" height="0.9"/>
<rect x="104.0" y="134.6" width="0.9" height="0.9"/>
<rect x="101.8" y="132.8" width="0.9" height="0.9"/>
<rect x="106.8" y="135.5" width="0.9" height="0.9"/>
<rect x="107.5" y="139.3" width="0.9" height="0.9"/>
<rect x="109.4" y="126.2" width="0.9" height="0.9"/>
<rect x="101.9" y="133.7" width="0.9" height="0.9"/>
<rect x="113.2" y="129.5" width="0.9" height="0.9"/>
<rect x="100.4" y="136.4" width="0.9" height="0.9"/>
<rect x="103.6" y="143.4" width="0.9" height="0.9"/>
<rect x="102.7" y="143.2" width="0.9" height="0.9"/>
<rect x="93.9" y="128.2" width="0.9" height="0.9"/>
<rect x="117.0" y="140.4" width="0.9" height="0.9"/>
<rect x="110.7" y="138.7" width="0.9" height="0.9"/>
<rect x="110.7" y="131.4" width="0.9" height="0.9"/>
<rect x="114.7" y="135.1" width="0.9" height="0.9"/>
<rect x="115.0" y="138.5" width="0.9" height="0.9"/>
<rect x="89.5" y="131.0" width="0.9" height="0.9"/>
<rect x="116.2" y="137.3" width="0.9" height="0.9"/>
<rect x="103.1" y="139.3" width="0.9" height="0.9"/>
<rect x="102.8" y="135.1" width="0.9" height="0.9"/>
<rect x="107.4" y="138.8" width="0.9" height="0.9"/>
<rect x="119.5" y="138.2" width="0.9" height="0.9"/>
<rect x="122.7" y="147.7" width="0.9" height="0.9"/>
<rect x="121.3" y="143.7" width="0.9" height="0.9"/>
<rect x="107.6" y="138.7" width="0.9" height="0.9"/>
<rect x="105.3" y="134.1" width="0.9" height="0.9"/>
<rect x="105.9" y="134.5" width="0.9" height="0.9"/>
<rect x="120.6" y="140.9" width="0.9" height="0.9"/>
<rect x="102.7" y="127.7" width="0.9" height="0.9"/>
<rect x="106.0" y="135.8" width="0.9" height="0.9"/>
<rect x="97.2" y="131.9" width="0.9" height="0.9"/>
<rect x="87.1" y="141.1" width="0.9" height="0.9"/>
<rect x="106.2" y="137.2" width="0.9" height="0.9"/>
<rect x="118.9" y="138.7" width="0.9" height="0.9"/>
<rect x="107.9" y="136.0" width="0.9" height="0.9"/>
<rect x="101.3" y="146.1" width="0.9" height="0.9"/>
<rect x="115.1" y="147.3" width="0.9" height="0.9"/>
<rect x="103.5" y="138.2" width="0.9" height="0.9"/>
<rect x="98.9" y="143.2" width="0.9" height="0.9"/>
<rect x="94.5" y="141.0" width="0.9" height="0.9"/>
<rect x="115.9" y="145.6" width="0.9" height="0.9"/>
<rect x="98.4" y="143.9" width="0.9" height="0.9"/>
<rect x="100.4" y="133.9" width="0.9" height="0.9"/>
<rect x="95.1" y="144.2" width="0.9" height="0.9"/>
<rect x="120.7" y="134.8" width="0.9" height="0.9"/>
<rect x="100.0" y="136.2" width="0.9" height="0.9"/>
<rect x="128.1" y="143.4" width="0.9" height="0.9"/>
<rect x="101.8" y="128.3" width="0.9" height="0.9"/>
<rect x="100.7" y="144.4" width="0.9" height="0.9"/>
<rect x="122.6" y="136.6" width="0.9" height="0.9"/>
<rect x="100.6" y="135.2" width="0.9" height="0.9"/>
<rect x="90.3" y="142.9" width="0.9" height="0.9"/>
<rect x="97.2" y="143.7" width="0.9" height="0.9"/>
<rect x="91.8" y="131.1" width="0.9" height="0.9"/>
<rect x="109.0" y="133.9" width="0.9" height="0.9"/>
<rect x="113.2" y="138.0" width="0.9" height="0.9"/>
<rect x="96.4" y="141.4" width="0.9" height="0.9"/>
<rect x="113.7" y="127.7" width="0.9" height="0.9"/>
<rect x="122.2" y="140.7" width="0.9" height="0.9"/>
<rect x="113.0" y="128.0" width="0.9" height="0.9"/>
<rect x="100.3" y="136.1" width="0.9" height="0.9"/>
<rect x="115.8" y="130.1" width="0.9" height="0.9"/>
<rect x="98.9" y="127.0" width="0.9" height="0.9"/>
<rect x="104.4" y="139.9" width="0.9" height="0.9"/>
<rect x="92.0" y="134.8" width="0.9" height="0.9"/>
<rect x="110.9" y="146.6" width="0.9" height="0.9"/>
<rect x="112.2" y="136.4" width="0.9" height="0.9"/>
<rect x="96.4" y="132.9" width="0.9" height="0.9"/>
<rect x="100.8" y="138.8" width="0.9" height="0.9"/>
<rect x="106.1" y="147.0" width="0.9" height="0.9"/>
<rect x="109.0" y="132.2" width="0.9" height="0.9"/>
<rect x="119.8" y="143.1" width="0.9" height="0.9"/>
<rect x="107.4" y="134.1" width="0.9" height="0.9"/>
<rect x="90.4" y="132.5" width="0.9" height="0.9"/>
<rect x="114.3" y="133.7" width="0.9" height="0.9"/>
<rect x="95.2" y="139.1" width="0.9" height="0.9"/>
<rect x="108.6" y="141.3" width="0.9" height="0.9"/>
<rect x="112.1" y="145.6" width="0.9" height="0.9"/>
<rect x="99.3" y="143.3" width="0.9" height="0.9"/>
<rect x="98.0" y="141.7" width="0.9" height="0.9"/>
<rect x="108.0" y="139.3" width="0.9" height="0.9"/>
<rect x="114.8" y="137.9" width="0.9" height="0.9"/>
<rect x="116.1" y="142.7" width="0.9" height="0.9"/>
<rect x="107.7" y="134.9" width="0.9" height="0.9"/>
<rect x="100.0" y="135.2" width="0.9" height="0.9"/>
<rect x="104.8" y="137.9" width="0.9" height="0.9"/>
<rect x="132.1" y="141.4" width="0.9" height="0.9"/>
<rect x="113.1" y="133.4" width="0.9" height="0.9"/>
<rect x="100.4" y="136.3" width="0.9" height="0.9"/>
<rect x="108.2" y="132.4" width="0.9" height="0.9"/>
<rect x="120.4" y="135.0" width="0.9" height="0.9"/>
<rect x="115.8" y="125.4" width="0.9" height="0.9"/>
<rect x="106.4" y="139.5" width="0.9" height="0.9"/>
<rect x="108.1" y="141.2" width="0.9" height="0.9"/>
<rect x="108.9" y="138.9" width="0.9" height="0.9"/>
<rect x="90.2" y="134.1" width="0.9" height="0.9"/>
<rect x="109.1" y="136.9" width="0.9" height="0.9"/>
<rect x="99.4" y="134.9" width="0.9" height="0.9"/>
<rect x="122.4" y="147.3" width="0.9" height="0.9"/>
<rect x="106.0" y="145.0" width="0.9" height="0.9"/>
<rect x="92.8" y="127.6" width="0.9" height="0.9"/>
<rect x="102.3" y="133.3" width="0.9" height="0.9"/>
<rect x="101.7" y="139.0" width="0.9" height="0.9"/>
<rect x="106.9" y="139.5" width="0.9" height="0.9"/>
<rect x="106.2" y="143.0" width="0.9" height="0.9"/>
<rect x="121.8" y="131.3" width="0.9" height="0.9"/>
<rect x="107.9" y="136.6" width="0.9" height="0.9"/>
<rect x="109.6" y="129.7" width="0.9" height="0.9"/>
<rect x="91.4" y="125.5" width="0.9" height="0.9"/>
<rect x="111.0" y="139.0" width="0.9" height="0.9"/>
<rect x="107.1" y="125.2" width="0.9" height="0.9"/>
<rect x="103.3" y="133.9" width="0.9" height="0.9"/>
<rect x="94.3" y="133.1" width="0.9" height="0.9"/>
<rect x="112.5" y="140.9" width="0.9" height="0.9"/>
<rect x="106.3" y="140.8" width="0.9" height="0.9"/>
<rect x="101.3" y="138.4" width="0.9" height="0.9"/>
<rect x="106.8" y="141.0" width="0.9" height="0.9"/>
<rect x="105.9" y="137.2" width="0.9" height="0.9"/>
<rect x="105.3" y="134.5" width="0.9" height="0.9"/>
<rect x="125.7" y="140.8" width="0.9" height="0.9"/>
<rect x="110.2" y="150.4" width="0.9" height="0.9"/>
<rect x="118.6" y="129.6" width="0.9" height="0.9"/>
<rect x="112.5" y="142.5" width="0.9" height="0.9"/>
<rect x="122.7" y="145.1" width="0.9" height="0.9"/>
<rect x="113.1" y="131.6" width="0.9" height="0.9"/>
<rect x="99.0" y="139.5" width="0.9" height="0.9"/>
<rect x="110.8" y="132.5" width="0.9" height="0.9"/>
<rect x="103.2" y="135.8" width="0.9" height="0.9"/>
<rect x="107.0" y="139.8" width="0.9" height="0.9"/>
<rect x="104.0" y="131.3" width="0.9" height="0.9"/>
<rect x="117.2" y="146.6" width="0.9" height="0.9"/>
<rect x="105.6" y="143.5" width="0.9" height="0.9"/>
<rect x="110.3" y="141.6" width="0.9" height="0.9"/>
<rect x="110.6" y="133.9" width="0.9" height="0.9"/>
<rect x="111.4" y="143.5" width="0.9" height="0.9"/>
<rect x="98.8" y="148.6" width="0.9" height="0.9"/>
<rect x="124.5" y="147.8" width="0.9" height="0.9"/>
<rect x="123.6" y="142.0" width="0.9" height="0.9"/>
<rect x="103.6" y="134.8" width="0.9" height="0.9"/>
<rect x="99.5" y="138.6" width="0.9" height="0.9"/>
<rect x="106.2" y="141.6" width="0.9" height="0.9"/>
<rect x="89.1" y="150.5" width="0.9" height="0.9"/>
<rect x="126.1" y="137.9" width="0.9" height="0.9"/>
<rect x="112.3" y="140.6" width="0.9" height="0.9"/>
<rect x="108.9" y="136.9" width="0.9" height="0.9"/>
<rect x="105.4" y="133.5" width="0.9" height="0.9"/>
<rect x="108.0" y="137.9" width="0.9" height="0.9"/>
<rect x="109.3" y="133.4" width="0.9" height="0.9"/>
<rect x="106.8" y="138.3" width="0.9" height="0.9"/>
<rect x="111.7" y="132.3" width="0.9" height="0.9"/>
<rect x="110.1" y="143.3" width="0.9" height="0.9"/>
<rect x="111.6" y="136.0" width="0.9" height="0.9"/>
<rect x="102.3" y="136.7" width="0.9" height="0.9"/>
<rect x="112.8" y="146.4" width="0.9" height="0.9"/>
<rect x="105.1" y="134.5" width="0.9" height="0.9"/>
<rect x="109.7" y="139.1" width="0.9" height="0.9"/>
<rect x="98.7" y="134.0" width="0.9" height="0.9"/>
<rect x="105.6" y="141.6" width="0.9" height="0.9"/>
<rect x="96.2" y="132.5" width="0.9" height="0.9"/>
<rect x="110.8" y="131.4" width="0.9" height="0.9"/>
<rect x="107.4" y="139.9" width="0.9" height="0.9"/>
<rect x="105.5" y="132.5" width="0.9" height="0.9"/>
<rect x="106.0" y="136.2" width="0.9" height="0.9"/>
<rect x="109.4" y="133.5" width="0.9" height="0.9"/>
<rect x="115.9" y="129.0" width="0.9" height="0.9"/>
<rect x="105.0" y="138.0" width="0.9" height="0.9"/>
<rect x="114.8" y="134.7" width="0.9" height="0.9"/>
<rect x="111.2" y="134.9" width="0.9" height="0.9"/>
<rect x="112.8" y="147.4" width="0.9" height="0.9"/>
<rect x="103.1" y="140.4" width="0.9" height="0.9"/>
<rect x="98.5" y="143.3" width="0.9" height="0.9"/>
<rect x="116.9" y="138.2" width="0.9" height="0.9"/>
<rect x="96.7" y="140.2" width="0.9" height="0.9"/>
<rect x="116.4" y="143.9" width="0.9" height="0.9"/>
<rect x="113.5" y="128.1" width="0.9" height="0.9"/>
<rect x="100.7" y="145.7" width="0.9" height="0.9"/>
<rect x="96.0" y="144.1" width="0.9" height="0.9"/>
<rect x="122.7" y="142.1" width="0.9" height="0.9"/>
<rect x="116.1" y="136.2" width="0.9" height="0.9"/>
<rect x="96.0" y="137.4" width="0.9" height="0.9"/>
<rect x="104.8" y="137.7" width="0.9" height="0.9"/>
<rect x="112.5" y="137.2" width="0.9" height="0.9"/>
<rect x="108.1" y="140.3" width="0.9" height="0.9"/>
<rect x="106.5" y="148.0" width="0.9" height="0.9"/>
<rect x="110.3" y="138.5" width="0.9" height="0.9"/>
<rect x="104.7" y="134.6" width="0.9" height="0.9"/>
<rect x="118.1" y="138.8" width="0.9" height="0.9"/>
<rect x="97.2" y="135.0" width="0.9" height="0.9"/>
<rect x="105.3" y="135.6" width="0.9" height="0.9"/>
<rect x="115.8" y="131.7" width="0.9" height="0.9"/>
<rect x="110.7" y="138.8" width="0.9" height="0.9"/>
<rect x="96.4" y="138.3" width="0.9" height="0.9"/>
<rect x="105.7" y="140.7" width="0.9" height="0.9"/>
<rect x="102.6" y="139.6" width="0.9" height="0.9"/>
<rect x="92.2" y="132.1" width="0.9" height="0.9"/>
<rect x="113.3" y="143.6" width="0.9" height="0.9"/>
<rect x="106.4" y="134.8" width="0.9" height="0.9"/>
<rect x="115.8" y="126.7" width="0.9" height="0.9"/>
<rect x="99.6" y="141.6" width="0.9" height="0.9"/>
<rect x="112.1" y="132.4" width="0.9" height="0.9"/>
<rect x="90.3" y="145.8" width="0.9" height="0.9"/>
<rect x="107.8" y="133.2" width="0.9" height="0.9"/>
<rect x="107.0" y="142.9" width="0.9" height="0.9"/>
<rect x="112.9" y="126.8" width="0.9" height="0.9"/>
<rect x="113.1" y="128.4" width="0.9" height="0.9"/>
<rect x="116.3" y="140.2" width="0.9" height="0.9"/>
<rect x="125.9" y="134.7" width="0.9" height="0.9"/>
<rect x="106.5" y="143.7" width="0.9" height="0.9"/>
<rect x="101.0" y="134.2" width="0.9" height="0.9"/>
<rect x="103.3" y="137.6" width="0.9" height="0.9"/>
<rect x="97.2" y="140.6" width="0.9" height="0.9"/>
<rect x="111.2" y="138.4" width="0.9" height="0.9"/>
<rect x="121.1" y="136.2" width="0.9" height="0.9"/>
<rect x="117.7" y="135.0" width="0.9" height="0.9"/>
<rect x="113.0" y="127.6" width="0.9" height="0.9"/>
<rect x="108.2" y="137.1" width="0.9" height="0.9"/>
<rect x="102.2" y="134.7" width="0.9" height="0.9"/>
<rect x="103.5" y="134.1" width="0.9" height="0.9"/>
<rect x="87.6" y="134.8" width="0.9" height="0.9"/>
<rect x="101.8" y="135.2" width="0.9" height="0.9"/>
<rect x="97.4" y="137.3" width="0.9" height="0.9"/>
<rect x="113.2" y="136.6" width="0.9" height="0.9"/>
<rect x="102.3" y="145.3" width="0.9" height="0.9"/>
<rect x="114.9" y="143.0" width="0.9" height="0.9"/>
<rect x="116.4" y="136.2" width="0.9" height="0.9"/>
<rect x="105.4" y="144.0" width="0.9" height="0.9"/>
<rect x="101.7" y="137.4" width="0.9" height="0.9"/>
<rect x="109.7" y="140.0" width="0.9" height="0.9"/>
<rect x="104.1" y="143.3" width="0.9" height="0.9"/>
<rect x="105.0" y="141.9" width="0.9" height="0.9"/>
<rect x="115.7" y="141.6" width="0.9" height="0.9"/>
<rect x="112.8" y="131.7" width="0.9" height="0.9"/>
<rect x="95.2" y="134.7" width="0.9" height="0.9"/>
<rect x="110.6" y="146.1" width="0.9" height="0.9"/>
<rect x="96.0" y="139.7" width="0.9" height="0.9"/>
<rect x="99.2" y="134.0" width="0.9" height="0.9"/>
<rect x="104.1" y="141.7" width="0.9" height="0.9"/>
<rect x="108.3" y="144.4" width="0.9" height="0.9"/>
<rect x="98.0" y="142.8" width="0.9" height="0.9"/>
<rect x="114.5" y="138.4" width="0.9" height="0.9"/>
<rect x="110.6" y="135.0" width="0.9" height="0.9"/>
<rect x="97.1" y="135.8" width="0.9" height="0.9"/>
<rect x="102.3" y="146.9" width="0.9" height="0.9"/>
<rect x="108.2" y="139.7" width="0.9" height="0.9"/>
<rect x="112.9" y="133.8" width="0.9" height="0.9"/>
<rect x="114.4" y="140.0" width="0.9" height="0.9"/>
<rect x="93.5" y="141.2" width="0.9" height="0.9"/>
<rect x="111.3" y="140.4" width="0.9" height="0.9"/>
<rect x="120.1" y="135.8" width="0.9" height="0.9"/>
<rect x="110.9" y="142.0" width="0.9" height="0.9"/>
<rect x="98.8" y="144.5" width="0.9" height="0.9"/>
<rect x="94.0" y="131.0" width="0.9" height="0.9"/>
<rect x="111.0" y="132.1" width="0.9" height="0.9"/>
<rect x="105.5" y="129.1" width="0.9" height="0.9"/>
<rect x="107.1" y="131.9" width="0.9" height="0.9"/>
<rect x="109.4" y="129.7" width="0.9" height="0.9"/>
<rect x="110.4" y="136.6" width="0.9" height="0.9"/>
<rect x="107.1" y="137.6" width="0.9" height="0.9"/>
<rect x="107.6" y="130.9" width="0.9" height="0.9"/>
<rect x="98.5" y="135.5" width="0.9" height="0.9"/>
<rect x="110.2" y="127.3" width="0.9" height="0.9"/>
<rect x="99.9" y="134.7" width="0.9" height="0.9"/>
<rect x="97.4" y="139.8" width="0.9" height="0.9"/>
<rect x="105.3" y="133.6" width="0.9" height="0.9"/>
<rect x="98.0" y="142.4" width="0.9" height="0.9"/>
<rect x="100.8" y="141.2" width="0.9" height="0.9"/>
<rect x="110.4" y="127.8" width="0.9" height="0.9"/>
<rect x="97.2" y="138.0" width="0.9" height="0.9"/>
<rect x="109.4" y="142.2" width="0.9" height="0.9"/>
<rect x="113.4" y="143.6" width="0.9" height="0.9"/>
<rect x="103.3" y="136.9" width="0.9" height="0.9"/>
<rect x="113.2" y="135.7" width="0.9" height="0.9"/>
<rect x="115.6" y="129.4" width="0.9" height="0.9"/>
<rect x="112.1" y="137.1" width="0.9" height="0.9"/>
<rect x="89.6" y="143.3" width="0.9" height="0.9"/>
<rect x="109.2" y="138.1" width="0.9" height="0.9"/>
<rect x="97.2" y="135.5" width="0.9" height="0.9"/>
<rect x="119.5" y="133.5" width="0.9" height="0.9"/>
<rect x="96.2" y="137.3" width="0.9" height="0.9"/>
<rect x="103.1" y="133.1" width="0.9" height="0.9"/>
<rect x="99.3" y="143.7" width="0.9" height="0.9"/>
<rect x="94.1" y="148.6" width="0.9" height="0.9"/>
<rect x="101.8" y="132.1" width="0.9" height="0.9"/>
<rect x="113.3" y="141.0" width="0.9" height="0.9"/>
<rect x="97.5" y="142.0" width="0.9" height="0.9"/>
<rect x="90.7" y="133.0" width="0.9" height="0.9"/>
<rect x="116.2" y="136.6" width="0.9" height="0.9"/>
<rect x="95.3" y="140.8" width="0.9" height="0.9"/>
<rect x="114.4" y="137.9" width="0.9" height="0.9"/>
<rect x="91.0" y="136.1" width="0.9" height="0.9"/>
<rect x="110.1" y="142.2" width="0.9" height="0.9"/>
<rect x="122.4" y="136.6" width="0.9" height="0.9"/>
<rect x="102.4" y="137.8" width="0.9" height="0.9"/>
<rect x="116.9" y="132.9" width="0.9" height="0.9"/>
<rect x="117.7" y="123.2" width="0.9" height="0.9"/>
<rect x="113.4" y="134.4" width="0.9" height="0.9"/>
<rect x="110.4" y="141.7" width="0.9" height="0.9"/>
<rect x="96.3" y="137.5" width="0.9" height="0.9"/>
<rect x="108.6" y="141.2" width="0.9" height="0.9"/>
<rect x="98.5" y="132.6" width="0.9" height="0.9"/>
<rect x="104.8" y="136.8" width="0.9" height="0.9"/>
<rect x="93.6" y="143.0" width="0.9" height="0.9"/>
<rect x="101.9" y="145.8" width="0.9" height="0.9"/>
<rect x="113.8" y="138.1" width="0.9" height="0.9"/>
<rect x="112.8" y="132.0" width="0.9" height="0.9"/>
<rect x="103.7" y="134.9" width="0.9" height="0.9"/>
<rect x="95.6" y="138.1" width="0.9" height="0.9"/>
<rect x="105.3" y="145.8" width="0.9" height="0.9"/>
<rect x="98.6" y="135.5" width="0.9" height="0.9"/>
<rect x="110.1" y="140.2" width="0.9" height="0.9"/>
<rect x="106.7" y="135.4" width="0.9" height="0.9"/>
<rect x="120.5" y="136.5" width="0.9" height="0.9"/>
<rect x="104.1" y="132.2" width="0.9" height="0.9"/>
<rect x="107.4" y="125.7" width="0.9" height="0.9"/>
<rect x="118.0" y="134.4" width="0.9" height="0.9"/>
<rect x="117.8" y="127.9" width="0.9" height="0.9"/>
<rect x="115.6" y="127.6" width="0.9" height="0.9"/>
<rect x="119.7" y="138.8" width="0.9" height="0.9"/>
<rect x="129.3" y="142.9" width="0.9" height="0.9"/>
<rect x="111.4" y="130.8" width="0.9" height="0.9"/>
<rect x="110.4" y="136.1" width="0.9" height="0.9"/>
<rect x="130.9" y="139.0" width="0.9" height="0.9"/>
<rect x="101.6" y="125.2" width="0.9" height="0.9"/>
<rect x="108.0" y="137.6" width="0.9" height="0.9"/>
<rect x="117.0" y="136.1" width="0.9" height="0.9"/>
<rect x="129.5" y="128.2" width="0.9" height="0.9"/>
<rect x="111.1" y="147.8" width="0.9" height="0.9"/>
<rect x="119.4" y="128.5" width="0.9" height="0.9"/>
<rect x="102.8" y="123.3" width="0.9" height="0.9"/>
<rect x="99.9" y="134.5" width="0.9" height="0.9"/>
<rect x="117.3" y="141.0" width="0.9" height="0.9"/>
<rect x="116.0" y="129.1" width="0.9" height="0.9"/>
<rect x="111.8" y="147.3" width="0.9" height="0.9"/>
<rect x="104.6" y="135.2" width="0.9" height="0.9"/>
<rect x="117.2" y="138.3" width="0.9" height="0.9"/>
<rect x="114.2" y="137.5" width="0.9" height="0.9"/>
<rect x="122.7" y="133.0" width="0.9" height="0.9"/>
<rect x="113.8" y="132.7" width="0.9" height="0.9"/>
<rect x="110.2" y="132.5" width="0.9" height="0.9"/>
<rect x="114.9" y="135.5" width="0.9" height="0.9"/>
<rect x="126.4" y="143.2" width="0.9" height="0.9"/>
<rect x="113.9" y="138.2" width="0.9" height="0.9"/>
<rect x="119.1" y="139.3" width="0.9" height="0.9"/>
<rect x="117.2" y="135.9" width="0.9" height="0.9"/>
<rect x="113.7" y="128.5" width="0.9" height="0.9"/>
<rect x="123.1" y="143.1" width="0.9" height="0.9"/>
<rect x="121.6" y="137.1" width="0.9" height="0.9"/>
<rect x="118.9" y="130.8" width="0.9" height="0.9"/>
<rect x="104.5" y="138.6" width="0.9" height="0.9"/>
<rect x="118.4" y="130.1" width="0.9" height="0.9"/>
<rect x="110.2" y="142.9" width="0.9" height="0.9"/>
<rect x="104.4" y="146.3" width="0.9" height="0.9"/>
<rect x="121.5" y="150.6" width="0.9" height="0.9"/>
<rect x="112.0" y="133.8" width="0.9" height="0.9"/>
<rect x="113.5" y="135.1" width="0.9" height="0.9"/>
<rect x="115.5" y="128.8" width="0.9" height="0.9"/>
<rect x="124.5" y="128.5" width="0.9" height="0.9"/>
<rect x="113.4" y="137.9" width="0.9" height="0.9"/>
<rect x="113.2" y="131.0" width="0.9" height="0.9"/>
<rect x="119.5" y="131.4" width="0.9" height="0.9"/>
<rect x="108.3" y="133.3" width="0.9" height="0.9"/>
<rect x="115.5" y="145.9" width="0.9" height="0.9"/>
<rect x="109.3" y="140.8" width="0.9" height="0.9"/>
<rect x="111.5" y="131.5" width="0.9" height="0.9"/>
<rect x="114.7" y="135.9" width="0.9" height="0.9"/>
<rect x="123.0" y="146.2" width="0.9" height="0.9"/>
<rect x="112.5" y="143.3" width="0.9" height="0.9"/>
<rect x="124.0" y="139.7" width="0.9" height="0.9"/>
<rect x="111.7" y="140.3" width="0.9" height="0.9"/>
<rect x="116.2" y="136.5" width="0.9" height="0.9"/>
<rect x="115.1" y="138.6" width="0.9" height="0.9"/>
<rect x="124.8" y="141.9" width="0.9" height="0.9"/>
<rect x="115.6" y="141.0" width="0.9" height="0.9"/>
<rect x="127.2" y="127.5" width="0.9" height="0.9"/>
<rect x="127.3" y="124.7" width="0.9" height="0.9"/>
<rect x="120.8" y="138.2" width="0.9" height="0.9"/>
<rect x="127.4" y="136.0" width="0.9" height="0.9"/>
<rect x="113.6" y="128.4" width="0.9" height="0.9"/>
<rect x="108.2" y="139.4" width="0.9" height="0.9"/>
<rect x="115.3" y="129.0" width="0.9" height="0.9"/>
<rect x="120.7" y="128.6" width="0.9" height="0.9"/>
<rect x="113.9" y="130.8" width="0.9" height="0.9"/>
<rect x="128.6" y="144.2" width="0.9" height="0.9"/>
<rect x="115.9" y="123.0" width="0.9" height="0.9"/>
<rect x="118.9" y="134.5" width="0.9" height="0.9"/>
<rect x="119.4" y="138.0" width="0.9" height="0.9"/>
<rect x="114.8" y="140.5" width="0.9" height="0.9"/>
<rect x="122.9" y="135.5" width="0.9" height="0.9"/>
<rect x="114.2" y="130.6" width="0.9" height="0.9"/>
<rect x="121.8" y="126.3" width="0.9" height="0.9"/>
<rect x="115.9" y="128.8" width="0.9" height="0.9"/>
<rect x="107.2" y="138.2" width="0.9" height="0.9"/>
<rect x="116.8" y="134.3" width="0.9" height="0.9"/>
<rect x="123.1" y="123.5" width="0.9" height="0.9"/>
<rect x="116.5" y="136.0" width="0.9" height="0.9"/>
<rect x="122.8" y="126.4" width="0.9" height="0.9"/>
<rect x="122.0" y="135.5" width="0.9" height="0.9"/>
<rect x="126.5" y="142.0" width="0.9" height="0.9"/>
<rect x="120.8" y="149.0" width="0.9" height="0.9"/>
<rect x="117.0" y="131.0" width="0.9" height="0.9"/>
<rect x="114.6" y="127.4" width="0.9" height="0.9"/>
<rect x="116.8" y="120.9" width="0.9" height="0.9"/>
<rect x="116.4" y="137.0" width="0.9" height="0.9"/>
<rect x="123.9" y="131.6" width="0.9" height="0.9"/>
<rect x="126.7" y="129.4" width="0.9" height="0.9"/>
<rect x="116.1" y="120.9" width="0.9" height="0.9"/>
<rect x="111.7" y="128.5" width="0.9" height="0.9"/>
<rect x="127.2" y="137.6" width="0.9" height="0.9"/>
<rect x="109.5" y="137.6" width="0.9" height="0.9"/>
<rect x="120.3" y="132.4" width="0.9" height="0.9"/>
<rect x="117.2" y="131.9" width="0.9" height="0.9"/>
<rect x="113.3" y="121.9" width="0.9" height="0.9"/>
<rect x="116.4" y="142.8" width="0.9" height="0.9"/>
<rect x="126.8" y="132.1" width="0.9" height="0.9"/>
<rect x="111.9" y="132.6" width="0.9" height="0.9"/>
<rect x="123.1" y="136.4" width="0.9" height="0.9"/>
<rect x="113.0" y="136.5" width="0.9" height="0.9"/>
<rect x="115.6" y="137.5" width="0.9" height="0.9"/>
<rect x="114.2" y="124.0" width="0.9" height="0.9"/>
<rect x="117.4" y="139.2" width="0.9" height="0.9"/>
<rect x="109.4" y="133.3" width="0.9" height="0.9"/>
<rect x="123.0" y="131.4" width="0.9" height="0.9"/>
<rect x="112.6" y="147.9" width="0.9" height="0.9"/>
<rect x="122.7" y="141.0" width="0.9" height="0.9"/>
<rect x="110.5" y="145.1" width="0.9" height="0.9"/>
<rect x="105.7" y="130.5" width="0.9" height="0.9"/>
<rect x="122.0" y="143.1" width="0.9" height="0.9"/>
<rect x="110.7" y="129.5" width="0.9" height="0.9"/>
<rect x="118.3" y="120.9" width="0.9" height="0.9"/>
<rect x="121.4" y="137.8" width="0.9" height="0.9"/>
<rect x="114.0" y="137.7" width="0.9" height="0.9"/>
<rect x="122.3" y="136.1" width="0.9" height="0.9"/>
<rect x="120.6" y="144.3" width="0.9" height="0.9"/>
<rect x="113.8" y="135.1" width="0.9" height="0.9"/>
<rect x="113.4" y="141.0" width="0.9" height="0.9"/>
<rect x="114.2" y="137.2" width="0.9" height="0.9"/>
<rect x="117.9" y="134.5" width="0.9" height="0.9"/>
<rect x="128.6" y="133.4" width="0.9" height="0.9"/>
<rect x="126.6" y="139.6" width="0.9" height="0.9"/>
<rect x="125.9" y="132.9" width="0.9" height="0.9"/>
<rect x="123.3" y="139.1" width="0.9" height="0.9"/>
<rect x="112.8" y="135.8" width="0.9" height="0.9"/>
<rect x="116.1" y="133.8" width="0.9" height="0.9"/>
<rect x="125.8" y="129.1" width="0.9" height="0.9"/>
<rect x="105.6" y="122.2" width="0.9" height="0.9"/>
<rect x="113.9" y="129.6" width="0.9" height="0.9"/>
<rect x="117.1" y="137.8" width="0.9" height="0.9"/>
<rect x="128.9" y="136.1" width="0.9" height="0.9"/>
<rect x="120.1" y="129.0" width="0.9" height="0.9"/>
<rect x="120.9" y="143.2" width="0.9" height="0.9"/>
<rect x="126.1" y="120.8" width="0.9" height="0.9"/>
<rect x="123.0" y="144.7" width="0.9" height="0.9"/>
<rect x="122.6" y="123.9" width="0.9" height="0.9"/>
<rect x="114.9" y="138.0" width="0.9" height="0.9"/>
<rect x="119.8" y="128.5" width="0.9" height="0.9"/>
<rect x="111.0" y="140.5" width="0.9" height="0.9"/>
<rect x="108.0" y="143.7" width="0.9" height="0.9"/>
<rect x="117.1" y="136.0" width="0.9" height="0.9"/>
<rect x="108.0" y="130.0" width="0.9" height="0.9"/>
<rect x="121.6" y="124.1" width="0.9" height="0.9"/>
<rect x="131.0" y="124.5" width="0.9" height="0.9"/>
<rect x="108.8" y="134.3" width="0.9" height="0.9"/>
<rect x="120.2" y="138.9" width="0.9" height="0.9"/>
<rect x="114.5" y="132.6" width="0.9" height="0.9"/>
<rect x="115.4" y="130.1" width="0.9" height="0.9"/>
<rect x="99.6" y="140.5" width="0.9" height="0.9"/>
<rect x="118.7" y="135.1" width="0.9" height="0.9"/>
<rect x="112.8" y="135.7" width="0.9" height="0.9"/>
<rect x="116.9" y="133.5" width="0.9" height="0.9"/>
<rect x="124.4" y="122.4" width="0.9" height="0.9"/>
<rect x="118.7" y="126.8" width="0.9" height="0.9"/>
<rect x="114.9" y="144.1" width="0.9" height="0.9"/>
<rect x="109.7" y="133.3" width="0.9" height="0.9"/>
<rect x="113.0" y="140.4" width="0.9" height="0.9"/>
<rect x="110.4" y="122.7" width="0.9" height="0.9"/>
<rect x="120.5" y="131.6" width="0.9" height="0.9"/>
<rect x="114.9" y="141.3" width="0.9" height="0.9"/>
<rect x="111.0" y="131.5" width="0.9" height="0.9"/>
<rect x="118.0" y="136.8" width="0.9" height="0.9"/>
<rect x="113.5" y="141.0" width="0.9" height="0.9"/>
<rect x="132.1" y="131.3" width="0.9" height="0.9"/>
<rect x="129.6" y="119.8" width="0.9" height="0.9"/>
<rect x="126.5" y="131.7" width="0.9" height="0.9"/>
<rect x="117.9" y="131.7" width="0.9" height="0.9"/>
<rect x="112.7" y="125.4" width="0.9" height="0.9"/>
<rect x="114.3" y="142.7" width="0.9" height="0.9"/>
<rect x="124.7" y="131.7" width="0.9" height="0.9"/>
<rect x="113.5" y="129.3" width="0.9" height="0.9"/>
<rect x="108.9" y="146.1" width="0.9" height="0.9"/>
<rect x="121.5" y="134.8" width="0.9" height="0.9"/>
<rect x="113.7" y="127.1" width="0.9" height="0.9"/>
<rect x="125.8" y="139.2" width="0.9" height="0.9"/>
<rect x="110.6" y="140.6" width="0.9" height="0.9"/>
<rect x="109.6" y="138.3" width="0.9" height="0.9"/>
<rect x="110.5" y="131.2" width="0.9" height="0.9"/>
<rect x="120.3" y="136.9" width="0.9" height="0.9"/>
<rect x="123.8" y="128.4" width="0.9" height="0.9"/>
<rect x="127.6" y="143.0" width="0.9" height="0.9"/>
<rect x="116.9" y="137.1" width="0.9" height="0.9"/>
<rect x="111.8" y="133.0" width="0.9" height="0.9"/>
<rect x="108.1" y="134.6" width="0.9" height="0.9"/>
<rect x="118.3" y="143.0" width="0.9" height="0.9"/>
<rect x="123.4" y="139.5" width="0.9" height="0.9"/>
<rect x="114.6" y="132.5" width="0.9" height="0.9"/>
<rect x="114.7" y="135.5" width="0.9" height="0.9"/>
<rect x="104.0" y="139.2" width="0.9" height="0.9"/>
<rect x="106.5" y="130.5" width="0.9" height="0.9"/>
<rect x="117.1" y="130.5" width="0.9" height="0.9"/>
<rect x="128.2" y="133.3" width="0.9" height="0.9"/>
<rect x="127.6" y="141.9" width="0.9" height="0.9"/>
<rect x="113.7" y="136.7" width="0.9" height="0.9"/>
<rect x="125.7" y="131.8" width="0.9" height="0.9"/>
<rect x="117.6" y="130.2" width="0.9" height="0.9"/>
<rect x="117.4" y="131.6" width="0.9" height="0.9"/>
<rect x="117.6" y="140.7" width="0.9" height="0.9"/>
<rect x="126.4" y="134.9" width="0.9" height="0.9"/>
<rect x="118.4" y="139.8" width="0.9" height="0.9"/>
<rect x="115.1" y="126.9" width="0.9" height="0.9"/>
<rect x="124.5" y="127.7" width="0.9" height="0.9"/>
<rect x="123.3" y="127.5" width="0.9" height="0.9"/>
<rect x="129.3" y="127.0" width="0.9" height="0.9"/>
<rect x="122.7" y="144.1" width="0.9" height="0.9"/>
<rect x="110.5" y="144.0" width="0.9" height="0.9"/>
<rect x="111.5" y="122.1" width="0.9" height="0.9"/>
<rect x="121.9" y="138.7" width="0.9" height="0.9"/>
<rect x="115.6" y="117.0" width="0.9" height="0.9"/>
<rect x="116.6" y="131.9" width="0.9" height="0.9"/>
<rect x="114.5" y="132.1" width="0.9" height="0.9"/>
<rect x="105.0" y="130.2" width="0.9" height="0.9"/>
<rect x="129.1" y="144.4" width="0.9" height="0.9"/>
<rect x="114.6" y="129.2" width="0.9" height="0.9"/>
<rect x="81.7" y="146.2" width="0.9" height="0.9"/>
<rect x="83.1" y="124.8" width="0.9" height="0.9"/>
<rect x="80.7" y="137.3" width="0.9" height="0.9"/>
<rect x="82.3" y="147.7" width="0.9" height="0.9"/>
<rect x="78.3" y="150.8" width="0.9" height="0.9"/>
<rect x="78.2" y="139.8" width="0.9" height="0.9"/>
<rect x="84.0" y="127.2" width="0.9" height="0.9"/>
<rect x="77.0" y="119.1" width="0.9" height="0.9"/>
<rect x="80.7" y="135.5" width="0.9" height="0.9"/>
<rect x="78.6" y="140.8" width="0.9" height="0.9"/>
<rect x="70.9" y="135.8" width="0.9" height="0.9"/>
<rect x="80.4" y="133.4" width="0.9" height="0.9"/>
<rect x="78.1" y="127.0" width="0.9" height="0.9"/>
<rect x="77.4" y="136.9" width="0.9" height="0.9"/>
<rect x="82.5" y="127.7" width="0.9" height="0.9"/>
<rect x="84.3" y="126.2" width="0.9" height="0.9"/>
<rect x="83.6" y="140.1" width="0.9" height="0.9"/>
<rect x="78.9" y="134.4" width="0.9" height="0.9"/>
<rect x="82.1" y="144.3" width="0.9" height="0.9"/>
<rect x="74.2" y="138.6" width="0.9" height="0.9"/>
<rect x="76.8" y="142.1" width="0.9" height="0.9"/>
<rect x="79.5" y="137.8" width="0.9" height="0.9"/>
<rect x="67.2" y="143.4" width="0.9" height="0.9"/>
<rect x="82.4" y="137.6" width="0.9" height="0.9"/>
<rect x="78.3" y="129.0" width="0.9" height="0.9"/>
<rect x="79.2" y="147.6" width="0.9" height="0.9"/>
<rect x="79.6" y="148.9" width="0.9" height="0.9"/>
<rect x="68.9" y="131.6" width="0.9" height="0.9"/>
<rect x="81.2" y="135.9" width="0.9" height="0.9"/>
<rect x="72.8" y="129.6" width="0.9" height="0.9"/>
<rect x="75.7" y="125.5" width="0.9" height="0.9"/>
<rect x="77.6" y="142.2" width="0.9" height="0.9"/>
<rect x="82.6" y="116.5" width="0.9" height="0.9"/>
<rect x="79.6" y="124.1" width="0.9" height="0.9"/>
<rect x="77.2" y="129.0" width="0.9" height="0.9"/>
<rect x="75.6" y="132.8" width="0.9" height="0.9"/>
<rect x="83.8" y="139.4" width="0.9" height="0.9"/>
<rect x="75.7" y="137.1" width="0.9" height="0.9"/>
<rect x="80.1" y="143.3" width="0.9" height="0.9"/>
<rect x="78.6" y="140.4" width="0.9" height="0.9"/>
<rect x="75.3" y="139.2" width="0.9" height="0.9"/>
<rect x="76.5" y="132.4" width="0.9" height="0.9"/>
<rect x="80.8" y="139.2" width="0.9" height="0.9"/>
<rect x="78.8" y="144.1" width="0.9" height="0.9"/>
<rect x="79.2" y="123.5" width="0.9" height="0.9"/>
<rect x="83.8" y="132.5" width="0.9" height="0.9"/>
<rect x="82.5" y="139.0" width="0.9" height="0.9"/>
<rect x="68.3" y="121.7" width="0.9" height="0.9"/>
<rect x="75.2" y="149.5" width="0.9" height="0.9"/>
<rect x="71.8" y="144.8" width="0.9" height="0.9"/>
<rect x="84.7" y="140.8" width="0.9" height="0.9"/>
<rect x="82.9" y="131.2" width="0.9" height="0.9"/>
<rect x="80.0" y="138.2" width="0.9" height="0.9"/>
<rect x="81.8" y="142.8" width="0.9" height="0.9"/>
<rect x="79.1" y="129.3" width="0.9" height="0.9"/>
<rect x="77.6" y="139.9" width="0.9" height="0.9"/>
<rect x="72.8" y="124.0" width="0.9" height="0.9"/>
<rect x="78.2" y="130.7" width="0.9" height="0.9"/>
<rect x="78.8" y="110.4" width="0.9" height="0.9"/>
<rect x="78.5" y="133.6" width="0.9" height="0.9"/>
<rect x="74.0" y="110.5" width="0.9" height="0.9"/>
<rect x="69.8" y="122.3" width="0.9" height="0.9"/>
<rect x="72.9" y="125.7" width="0.9" height="0.9"/>
<rect x="75.1" y="115.0" width="0.9" height="0.9"/>
<rect x="73.4" y="118.4" width="0.9" height="0.9"/>
<rect x="67.9" y="127.4" width="0.9" height="0.9"/>
<rect x="68.6" y="115.9" width="0.9" height="0.9"/>
<rect x="69.4" y="115.9" width="0.9" height="0.9"/>
<rect x="74.9" y="121.8" width="0.9" height="0.9"/>
<rect x="76.4" y="122.0" width="0.9" height="0.9"/>
<rect x="68.6" y="125.0" width="0.9" height="0.9"/>
<rect x="68.5" y="117.8" width="0.9" height="0.9"/>
<rect x="70.4" y="120.2" width="0.9" height="0.9"/>
<rect x="75.6" y="117.1" width="0.9" height="0.9"/>
<rect x="72.4" y="119.9" width="0.9" height="0.9"/>
<rect x="66.2" y="114.7" width="0.9" height="0.9"/>
<rect x="70.2" y="121.9" width="0.9" height="0.9"/>
<rect x="72.2" y="122.3" width="0.9" height="0.9"/>
<rect x="71.2" y="117.8" width="0.9" height="0.9"/>
<rect x="72.6" y="115.2" width="0.9" height="0.9"/>
<rect x="65.8" y="118.4" width="0.9" height="0.9"/>
<rect x="65.5" y="117.5" width="0.9" height="0.9"/>
<rect x="68.1" y="117.3" width="0.9" height="0.9"/>
<rect x="70.8" y="116.1" width="0.9" height="0.9"/>
<rect x="69.4" y="111.8" width="0.9" height="0.9"/>
<rect x="71.6" y="115.8" width="0.9" height="0.9"/>
<rect x="67.9" y="121.2" width="0.9" height="0.9"/>
<rect x="71.4" y="120.5" width="0.9" height="0.9"/>
<rect x="65.2" y="121.1" width="0.9" height="0.9"/>
<rect x="71.6" y="115.3" width="0.9" height="0.9"/>
<rect x="73.9" y="119.8" width="0.9" height="0.9"/>
<rect x="71.1" y="117.8" width="0.9" height="0.9"/>
<rect x="73.1" y="120.5" width="0.9" height="0.9"/>
<rect x="83.4" y="132.4" width="0.9" height="0.9"/>
<rect x="84.3" y="139.9" width="0.9" height="0.9"/>
<rect x="89.6" y="137.7" width="0.9" height="0.9"/>
<rect x="84.2" y="142.6" width="0.9" height="0.9"/>
<rect x="88.2" y="143.1" width="0.9" height="0.9"/>
<rect x="83.2" y="138.3" width="0.9" height="0.9"/>
<rect x="88.4" y="140.8" width="0.9" height="0.9"/>
<rect x="87.5" y="134.0" width="0.9" height="0.9"/>
<rect x="86.2" y="148.9" width="0.9" height="0.9"/>
<rect x="85.3" y="142.4" width="0.9" height="0.9"/>
<rect x="88.1" y="138.4" width="0.9" height="0.9"/>
<rect x="83.5" y="136.3" width="0.9" height="0.9"/>
<rect x="89.0" y="135.2" width="0.9" height="0.9"/>
<rect x="83.4" y="134.3" width="0.9" height="0.9"/>
<rect x="89.4" y="137.6" width="0.9" height="0.9"/>
<rect x="89.6" y="137.0" width="0.9" height="0.9"/>
<rect x="84.8" y="136.9" width="0.9" height="0.9"/>
<rect x="84.8" y="136.0" width="0.9" height="0.9"/>
<rect x="84.4" y="141.8" width="0.9" height="0.9"/>
<rect x="88.3" y="136.8" width="0.9" height="0.9"/>
<rect x="90.0" y="136.1" width="0.9" height="0.9"/>
<rect x="84.5" y="136.8" width="0.9" height="0.9"/>
<rect x="89.0" y="138.5" width="0.9" height="0.9"/>
<rect x="89.1" y="138.9" width="0.9" height="0.9"/>
<rect x="88.8" y="150.0" width="0.9" height="0.9"/>
<rect x="85.0" y="136.6" width="0.9" height="0.9"/>
<rect x="89.2" y="146.0" width="0.9" height="0.9"/>
<rect x="84.1" y="136.7" width="0.9" height="0.9"/>
<rect x="86.2" y="132.6" width="0.9" height="0.9"/>
<rect x="87.1" y="143.1" width="0.9" height="0.9"/>
<rect x="89.2" y="137.2" width="0.9" height="0.9"/>
<rect x="85.5" y="142.2" width="0.9" height="0.9"/>
<rect x="84.3" y="128.2" width="0.9" height="0.9"/>
<rect x="89.0" y="145.0" width="0.9" height="0.9"/>
<rect x="83.2" y="139.8" width="0.9" height="0.9"/>
<rect x="83.8" y="140.8" width="0.9" height="0.9"/>
<rect x="89.4" y="139.9" width="0.9" height="0.9"/>
<rect x="84.1" y="139.8" width="0.9" height="0.9"/>
<rect x="84.2" y="137.3" width="0.9" height="0.9"/>
</g>
<rect x="61.5" y="104.5" width="24" height="47" fill="none" stroke="#222" stroke-width="0.95"/>
<rect x="88.5" y="104.5" width="44" height="47" fill="none" stroke="#808080" stroke-width="0.95"/>
<text x="79.4" y="87.2" font-size="7.5" text-anchor="middle" font-weight="normal" fill="#1a1a1a" stroke="#1a1a1a" stroke-width="0.5" >CD21 Low</text>
<text x="79.1" y="96.1" font-size="7.5" text-anchor="middle" font-weight="normal" fill="#1a1a1a" stroke="#1a1a1a" stroke-width="0.5" >7.56%</text>
<text x="120.5" y="87.2" font-size="7.5" text-anchor="middle" font-weight="normal" fill="#707070" stroke="#707070" stroke-width="0.22" >CD21 High</text>
<text x="121.3" y="96.2" font-size="7.5" text-anchor="middle" font-weight="normal" fill="#707070" stroke="#707070" stroke-width="0.22" >89.46%</text>
<rect x="56.9" y="28.4" width="158.6" height="157.7" fill="none" stroke="#000" stroke-width="1.3"/>
<line x1="53.9" y1="43.8" x2="56.9" y2="43.8" stroke="#000" stroke-width="1" />
<text x="44.8" y="47.2" font-size="7.8" text-anchor="middle" fill="#000" stroke="#000" stroke-width="0.22">10<tspan font-size="6.08" dy="-2.9">5</tspan></text>
<line x1="53.9" y1="79.0" x2="56.9" y2="79.0" stroke="#000" stroke-width="1" />
<text x="44.8" y="82.3" font-size="7.8" text-anchor="middle" fill="#000" stroke="#000" stroke-width="0.22">10<tspan font-size="6.08" dy="-2.9">4</tspan></text>
<line x1="53.9" y1="116.8" x2="56.9" y2="116.8" stroke="#000" stroke-width="1" />
<text x="44.8" y="119.7" font-size="7.8" text-anchor="middle" fill="#000" stroke="#000" stroke-width="0.22">10<tspan font-size="6.08" dy="-2.9">3</tspan></text>
<line x1="53.9" y1="154.4" x2="56.9" y2="154.4" stroke="#000" stroke-width="1" />
<text x="44.8" y="157.8" font-size="7.8" text-anchor="middle" fill="#000" stroke="#000" stroke-width="0.22">10<tspan font-size="6.08" dy="-2.9">2</tspan></text>
<line x1="53.9" y1="166" x2="56.9" y2="166" stroke="#000" stroke-width="1" />
<text x="42.6" y="169.9" font-size="7.8" text-anchor="middle" fill="#000" stroke="#000" stroke-width="0.22">-10<tspan font-size="6.08" dy="-2.9">1</tspan></text>
<line x1="53.9" y1="179.3" x2="56.9" y2="179.3" stroke="#000" stroke-width="1" />
<text x="42.6" y="182.9" font-size="7.8" text-anchor="middle" fill="#000" stroke="#000" stroke-width="0.22">-10<tspan font-size="6.08" dy="-2.9">2</tspan></text>
<line x1="54.9" y1="68.54353815349506" x2="56.9" y2="68.54353815349506" stroke="#000" stroke-width="0.8" />
<line x1="54.9" y1="62.30990758292395" x2="56.9" y2="62.30990758292395" stroke="#000" stroke-width="0.8" />
<line x1="54.9" y1="57.88707630699013" x2="56.9" y2="57.88707630699013" stroke="#000" stroke-width="0.8" />
<line x1="54.9" y1="54.456461846504936" x2="56.9" y2="54.456461846504936" stroke="#000" stroke-width="0.8" />
<line x1="54.9" y1="51.653445736419016" x2="56.9" y2="51.653445736419016" stroke="#000" stroke-width="0.8" />
<line x1="54.9" y1="49.283529383495306" x2="56.9" y2="49.283529383495306" stroke="#000" stroke-width="0.8" />
<line x1="54.9" y1="47.2306144604852" x2="56.9" y2="47.2306144604852" stroke="#000" stroke-width="0.8" />
<line x1="54.9" y1="45.41981516584789" x2="56.9" y2="45.41981516584789" stroke="#000" stroke-width="0.8" />
<line x1="54.9" y1="105.4812721630343" x2="56.9" y2="105.4812721630343" stroke="#000" stroke-width="0.8" />
<line x1="54.9" y1="98.86024082254069" x2="56.9" y2="98.86024082254069" stroke="#000" stroke-width="0.8" />
<line x1="54.9" y1="94.16254432606861" x2="56.9" y2="94.16254432606861" stroke="#000" stroke-width="0.8" />
<line x1="54.9" y1="90.5187278369657" x2="56.9" y2="90.5187278369657" stroke="#000" stroke-width="0.8" />
<line x1="54.9" y1="87.541512985575" x2="56.9" y2="87.541512985575" stroke="#000" stroke-width="0.8" />
<line x1="54.9" y1="85.02431369546395" x2="56.9" y2="85.02431369546395" stroke="#000" stroke-width="0.8" />
<line x1="54.9" y1="82.84381648910292" x2="56.9" y2="82.84381648910292" stroke="#000" stroke-width="0.8" />
<line x1="54.9" y1="80.9204816450814" x2="56.9" y2="80.9204816450814" stroke="#000" stroke-width="0.8" />
<line x1="54.9" y1="143.0113751626007" x2="56.9" y2="143.0113751626007" stroke="#000" stroke-width="0.8" />
<line x1="54.9" y1="136.40795294801268" x2="56.9" y2="136.40795294801268" stroke="#000" stroke-width="0.8" />
<line x1="54.9" y1="131.72275032520142" x2="56.9" y2="131.72275032520142" stroke="#000" stroke-width="0.8" />
<line x1="54.9" y1="128.0886248373993" x2="56.9" y2="128.0886248373993" stroke="#000" stroke-width="0.8" />
<line x1="54.9" y1="125.11932811061337" x2="56.9" y2="125.11932811061337" stroke="#000" stroke-width="0.8" />
<line x1="54.9" y1="122.60882349946537" x2="56.9" y2="122.60882349946537" stroke="#000" stroke-width="0.8" />
<line x1="54.9" y1="120.4341254878021" x2="56.9" y2="120.4341254878021" stroke="#000" stroke-width="0.8" />
<line x1="54.9" y1="118.51590589602532" x2="56.9" y2="118.51590589602532" stroke="#000" stroke-width="0.8" />
<line x1="55.1" y1="158" x2="56.9" y2="158" stroke="#000" stroke-width="0.8" />
<line x1="55.1" y1="160" x2="56.9" y2="160" stroke="#000" stroke-width="0.8" />
<line x1="55.1" y1="162" x2="56.9" y2="162" stroke="#000" stroke-width="0.8" />
<line x1="55.1" y1="163.5" x2="56.9" y2="163.5" stroke="#000" stroke-width="0.8" />
<line x1="55.1" y1="168" x2="56.9" y2="168" stroke="#000" stroke-width="0.8" />
<line x1="55.1" y1="170" x2="56.9" y2="170" stroke="#000" stroke-width="0.8" />
<line x1="55.1" y1="172" x2="56.9" y2="172" stroke="#000" stroke-width="0.8" />
<line x1="55.1" y1="174" x2="56.9" y2="174" stroke="#000" stroke-width="0.8" />
<line x1="55.1" y1="176.5" x2="56.9" y2="176.5" stroke="#000" stroke-width="0.8" />
<line x1="59" y1="186.1" x2="59" y2="189.1" stroke="#000" stroke-width="1" />
<text x="58.5" y="199.6" font-size="7.8" text-anchor="middle" fill="#000" stroke="#000" stroke-width="0.22">-10<tspan font-size="6.08" dy="-2.9">2</tspan></text>
<line x1="76" y1="186.1" x2="76" y2="189.1" stroke="#000" stroke-width="1" />
<text x="76.0" y="199.6" font-size="7.8" text-anchor="middle" fill="#000" stroke="#000" stroke-width="0.22">10<tspan font-size="6.08" dy="-2.9">1</tspan></text>
<line x1="92" y1="186.1" x2="92" y2="189.1" stroke="#000" stroke-width="1" />
<text x="92.0" y="199.6" font-size="7.8" text-anchor="middle" fill="#000" stroke="#000" stroke-width="0.22">10<tspan font-size="6.08" dy="-2.9">2</tspan></text>
<line x1="128.5" y1="186.1" x2="128.5" y2="189.1" stroke="#000" stroke-width="1" />
<text x="128.5" y="199.6" font-size="7.8" text-anchor="middle" fill="#000" stroke="#000" stroke-width="0.22">10<tspan font-size="6.08" dy="-2.9">3</tspan></text>
<line x1="165" y1="186.1" x2="165" y2="189.1" stroke="#000" stroke-width="1" />
<text x="165.0" y="199.6" font-size="7.8" text-anchor="middle" fill="#000" stroke="#000" stroke-width="0.22">10<tspan font-size="6.08" dy="-2.9">4</tspan></text>
<line x1="198.5" y1="186.1" x2="198.5" y2="189.1" stroke="#000" stroke-width="1" />
<text x="198.5" y="199.6" font-size="7.8" text-anchor="middle" fill="#000" stroke="#000" stroke-width="0.22">10<tspan font-size="6.08" dy="-2.9">5</tspan></text>
<line x1="102.98759484173532" y1="186.1" x2="102.98759484173532" y2="188.9" stroke="#000" stroke-width="0.9" />
<line x1="109.41492579726767" y1="186.1" x2="109.41492579726767" y2="188.9" stroke="#000" stroke-width="0.9" />
<line x1="113.97518968347063" y1="186.1" x2="113.97518968347063" y2="188.9" stroke="#000" stroke-width="0.9" />
<line x1="117.51240515826468" y1="186.1" x2="117.51240515826468" y2="188.9" stroke="#000" stroke-width="0.9" />
<line x1="120.402520639003" y1="186.1" x2="120.402520639003" y2="188.9" stroke="#000" stroke-width="0.9" />
<line x1="122.84607846052037" y1="186.1" x2="122.84607846052037" y2="188.9" stroke="#000" stroke-width="0.9" />
<line x1="124.96278452520593" y1="186.1" x2="124.96278452520593" y2="188.9" stroke="#000" stroke-width="0.9" />
<line x1="126.82985159453536" y1="186.1" x2="126.82985159453536" y2="188.9" stroke="#000" stroke-width="0.9" />
<line x1="139.4875948417353" y1="186.1" x2="139.4875948417353" y2="188.9" stroke="#000" stroke-width="0.9" />
<line x1="145.91492579726767" y1="186.1" x2="145.91492579726767" y2="188.9" stroke="#000" stroke-width="0.9" />
<line x1="150.47518968347063" y1="186.1" x2="150.47518968347063" y2="188.9" stroke="#000" stroke-width="0.9" />
<line x1="154.0124051582647" y1="186.1" x2="154.0124051582647" y2="188.9" stroke="#000" stroke-width="0.9" />
<line x1="156.902520639003" y1="186.1" x2="156.902520639003" y2="188.9" stroke="#000" stroke-width="0.9" />
<line x1="159.34607846052037" y1="186.1" x2="159.34607846052037" y2="188.9" stroke="#000" stroke-width="0.9" />
<line x1="161.46278452520593" y1="186.1" x2="161.46278452520593" y2="188.9" stroke="#000" stroke-width="0.9" />
<line x1="163.32985159453534" y1="186.1" x2="163.32985159453534" y2="188.9" stroke="#000" stroke-width="0.9" />
<line x1="175.08450485474336" y1="186.1" x2="175.08450485474336" y2="188.9" stroke="#000" stroke-width="0.9" />
<line x1="180.98356203310868" y1="186.1" x2="180.98356203310868" y2="188.9" stroke="#000" stroke-width="0.9" />
<line x1="185.16900970948674" y1="186.1" x2="185.16900970948674" y2="188.9" stroke="#000" stroke-width="0.9" />
<line x1="188.41549514525664" y1="186.1" x2="188.41549514525664" y2="188.9" stroke="#000" stroke-width="0.9" />
<line x1="191.06806688785207" y1="186.1" x2="191.06806688785207" y2="188.9" stroke="#000" stroke-width="0.9" />
<line x1="193.3107843404776" y1="186.1" x2="193.3107843404776" y2="188.9" stroke="#000" stroke-width="0.9" />
<line x1="195.2535145642301" y1="186.1" x2="195.2535145642301" y2="188.9" stroke="#000" stroke-width="0.9" />
<line x1="196.9671240662174" y1="186.1" x2="196.9671240662174" y2="188.9" stroke="#000" stroke-width="0.9" />
<line x1="61" y1="186.1" x2="61" y2="188.9" stroke="#000" stroke-width="0.9" />
<line x1="63" y1="186.1" x2="63" y2="188.9" stroke="#000" stroke-width="0.9" />
<line x1="65" y1="186.1" x2="65" y2="188.9" stroke="#000" stroke-width="0.9" />
<line x1="67" y1="186.1" x2="67" y2="188.9" stroke="#000" stroke-width="0.9" />
<line x1="69" y1="186.1" x2="69" y2="188.9" stroke="#000" stroke-width="0.9" />
<line x1="71" y1="186.1" x2="71" y2="188.9" stroke="#000" stroke-width="0.9" />
<line x1="73" y1="186.1" x2="73" y2="188.9" stroke="#000" stroke-width="0.9" />
<line x1="74.5" y1="186.1" x2="74.5" y2="188.9" stroke="#000" stroke-width="0.9" />
<line x1="78" y1="186.1" x2="78" y2="188.9" stroke="#000" stroke-width="0.9" />
<line x1="80" y1="186.1" x2="80" y2="188.9" stroke="#000" stroke-width="0.9" />
<line x1="82" y1="186.1" x2="82" y2="188.9" stroke="#000" stroke-width="0.9" />
<line x1="84" y1="186.1" x2="84" y2="188.9" stroke="#000" stroke-width="0.9" />
<line x1="86" y1="186.1" x2="86" y2="188.9" stroke="#000" stroke-width="0.9" />
<line x1="88" y1="186.1" x2="88" y2="188.9" stroke="#000" stroke-width="0.9" />
<line x1="26.6" y1="151" x2="26.6" y2="37.2" stroke="#000" stroke-width="1.4" />
<path d="M26.6,32.2 L24.0,37.800000000000004 L26.6,37.2 L29.200000000000003,37.800000000000004 Z" fill="#000"/>
<text transform="translate(29.7,164.6) rotate(-90) scale(0.9,1)" font-size="9.5" text-anchor="middle" font-weight="normal" fill="#000" stroke="#000" stroke-width="0.22">CD19</text>
<text transform="translate(50.0,212.8) scale(0.87,1)" font-size="9.8" text-anchor="start" font-weight="normal" fill="#000" stroke="#000" stroke-width="0.22">CD21</text>
<line x1="71.8" y1="210.3" x2="210.5" y2="210.3" stroke="#000" stroke-width="1.4" />
<path d="M215.5,210.3 L208.9,207.3 L210.1,210.3 L208.9,213.3 Z" fill="#000"/>
<line x1="70.8" y1="156.5" x2="76.0" y2="243" stroke="#000" stroke-width="1.3" />
<line x1="108.3" y1="156.5" x2="133.8" y2="237.5" stroke="#666" stroke-width="1.2" />
<path d="M56.50,338.60 L56.55,338.45 L56.58,338.25 L56.83,338.00 L57.50,337.70 L58.80,337.34 L60.58,336.93 L62.48,336.50 L64.20,336.10 L65.67,335.75 L67.07,335.41 L68.38,335.07 L69.60,334.70 L70.67,334.26 L71.60,333.79 L72.53,333.32 L73.60,332.90 L74.82,332.55 L76.12,332.25 L77.52,331.97 L79.00,331.70 L80.64,331.45 L82.41,331.24 L84.17,331.00 L85.80,330.70 L87.23,330.34 L88.54,329.94 L89.80,329.47 L91.10,328.90 L92.44,328.21 L93.79,327.43 L95.15,326.56 L96.50,325.60 L97.88,324.56 L99.28,323.43 L100.64,322.21 L101.90,320.90 L103.02,319.49 L104.04,317.98 L105.01,316.40 L106.00,314.80 L107.03,313.24 L108.06,311.69 L109.07,310.01 L110.00,308.10 L110.85,305.74 L111.64,303.07 L112.38,300.43 L113.10,298.20 L113.79,296.59 L114.46,295.37 L115.09,294.21 L115.70,292.80 L116.29,291.05 L116.86,289.12 L117.40,287.09 L117.90,285.00 L118.35,282.81 L118.76,280.50 L119.14,278.19 L119.50,276.00 L119.79,274.01 L120.02,272.14 L120.31,270.25 L120.80,268.20 L121.56,265.93 L122.51,263.52 L123.53,261.05 L124.50,258.60 L125.42,256.18 L126.35,253.76 L127.25,251.33 L128.10,248.90 L128.89,246.33 L129.64,243.67 L130.34,241.20 L131.00,239.20 L131.60,237.78 L132.15,236.77 L132.67,236.08 L133.20,235.60 L133.70,235.27 L134.16,235.14 L134.67,235.35 L135.30,236.00 L136.12,237.32 L137.08,239.18 L138.04,241.17 L138.90,242.90 L139.59,244.19 L140.18,245.27 L140.76,246.37 L141.40,247.70 L142.17,249.36 L143.02,251.21 L143.83,253.14 L144.50,255.00 L144.97,256.77 L145.32,258.52 L145.60,260.26 L145.90,262.00 L146.20,263.71 L146.48,265.40 L146.77,267.14 L147.10,269.00 L147.49,271.03 L147.91,273.18 L148.36,275.39 L148.80,277.60 L149.22,279.65 L149.63,281.62 L150.08,283.80 L150.60,286.50 L151.21,289.95 L151.88,293.93 L152.61,298.08 L153.40,302.00 L154.29,305.82 L155.28,309.66 L156.25,313.17 L157.10,316.00 L157.81,317.93 L158.44,319.19 L158.99,320.10 L159.50,321.00 L159.92,321.86 L160.27,322.55 L160.60,323.21 L161.00,324.00 L161.47,324.97 L161.98,326.03 L162.53,327.12 L163.10,328.20 L163.72,329.28 L164.37,330.37 L165.05,331.43 L165.70,332.40 L166.35,333.27 L167.01,334.06 L167.63,334.78 L168.20,335.40 L168.67,335.90 L169.07,336.29 L169.47,336.63 L169.90,337.00 L170.45,337.44 L171.06,337.90 L171.61,338.31 L172.00,338.60 L56.50,338.60" fill="#666666" stroke="none" stroke-width="1" />
<path d="M45.60,338.40 L46.10,337.70 L48.10,335.70 L50.80,328.90 L52.80,325.60 L54.80,320.20 L56.80,313.50 L58.80,305.40 L60.20,300.00 L61.50,292.00 L63.00,283.00 L63.80,275.70 L64.30,267.10 L65.90,264.40 L67.50,260.10 L68.60,256.90 L69.40,258.50 L70.70,254.80 L71.80,251.50 L72.90,245.70 L73.90,243.00 L75.00,245.00 L76.60,243.50 L78.30,241.60 L79.50,244.00 L80.90,251.00 L82.00,255.80 L83.10,262.80 L84.70,263.30 L86.30,260.10 L87.90,260.70 L89.50,262.80 L90.60,266.00 L91.10,269.20 L91.60,275.10 L92.70,273.50 L94.30,274.00 L95.40,278.30 L96.40,282.10 L97.30,285.80 L98.00,284.80 L99.70,287.40 L101.80,289.60 L103.40,288.50 L103.90,291.70 L105.00,297.60 L106.60,299.60 L107.50,301.90 L108.20,302.50 L109.30,307.20 L111.70,311.30 L114.00,312.50 L117.00,313.70 L119.30,316.60 L121.70,320.20 L124.60,323.70 L128.80,324.90 L132.30,326.10 L135.20,328.40 L137.00,329.60 L139.00,329.90 L140.20,332.00 L141.50,334.10 L144.50,334.50 L150.40,335.00 L152.10,336.20 L153.80,335.40 L161.40,335.40 L169.90,335.80 L170.70,337.00 L172.00,338.30" fill="none" stroke="#000" stroke-width="1.5" stroke-linejoin="round"/>
<rect x="43.2" y="235.5" width="189.3" height="103.10000000000002" fill="none" stroke="#000" stroke-width="1.2"/>
<line x1="40.2" y1="235.5" x2="43.2" y2="235.5" stroke="#000" stroke-width="1" />
<text x="37.3" y="238.3" font-size="7.8" text-anchor="end" font-weight="normal" fill="#000" stroke="#000" stroke-width="0.22" >6</text>
<line x1="40.2" y1="261.275" x2="43.2" y2="261.275" stroke="#000" stroke-width="1" />
<text x="37.3" y="264.075" font-size="7.8" text-anchor="end" font-weight="normal" fill="#000" stroke="#000" stroke-width="0.22" >5</text>
<line x1="40.2" y1="287.05" x2="43.2" y2="287.05" stroke="#000" stroke-width="1" />
<text x="37.3" y="289.85" font-size="7.8" text-anchor="end" font-weight="normal" fill="#000" stroke="#000" stroke-width="0.22" >3</text>
<line x1="40.2" y1="312.82500000000005" x2="43.2" y2="312.82500000000005" stroke="#000" stroke-width="1" />
<text x="37.3" y="315.62500000000006" font-size="7.8" text-anchor="end" font-weight="normal" fill="#000" stroke="#000" stroke-width="0.22" >2</text>
<line x1="40.2" y1="338.6" x2="43.2" y2="338.6" stroke="#000" stroke-width="1" />
<text x="37.3" y="341.40000000000003" font-size="7.8" text-anchor="end" font-weight="normal" fill="#000" stroke="#000" stroke-width="0.22" >0</text>
<line x1="41.2" y1="338.6" x2="43.2" y2="338.6" stroke="#000" stroke-width="0.9" />
<line x1="41.2" y1="333.44500000000005" x2="43.2" y2="333.44500000000005" stroke="#000" stroke-width="0.9" />
<line x1="41.2" y1="328.29" x2="43.2" y2="328.29" stroke="#000" stroke-width="0.9" />
<line x1="41.2" y1="323.135" x2="43.2" y2="323.135" stroke="#000" stroke-width="0.9" />
<line x1="41.2" y1="317.98" x2="43.2" y2="317.98" stroke="#000" stroke-width="0.9" />
<line x1="41.2" y1="312.82500000000005" x2="43.2" y2="312.82500000000005" stroke="#000" stroke-width="0.9" />
<line x1="41.2" y1="307.67" x2="43.2" y2="307.67" stroke="#000" stroke-width="0.9" />
<line x1="41.2" y1="302.515" x2="43.2" y2="302.515" stroke="#000" stroke-width="0.9" />
<line x1="41.2" y1="297.36" x2="43.2" y2="297.36" stroke="#000" stroke-width="0.9" />
<line x1="41.2" y1="292.20500000000004" x2="43.2" y2="292.20500000000004" stroke="#000" stroke-width="0.9" />
<line x1="41.2" y1="287.05" x2="43.2" y2="287.05" stroke="#000" stroke-width="0.9" />
<line x1="41.2" y1="281.895" x2="43.2" y2="281.895" stroke="#000" stroke-width="0.9" />
<line x1="41.2" y1="276.74" x2="43.2" y2="276.74" stroke="#000" stroke-width="0.9" />
<line x1="41.2" y1="271.58500000000004" x2="43.2" y2="271.58500000000004" stroke="#000" stroke-width="0.9" />
<line x1="41.2" y1="266.43" x2="43.2" y2="266.43" stroke="#000" stroke-width="0.9" />
<line x1="41.2" y1="261.275" x2="43.2" y2="261.275" stroke="#000" stroke-width="0.9" />
<line x1="41.2" y1="256.12" x2="43.2" y2="256.12" stroke="#000" stroke-width="0.9" />
<line x1="41.2" y1="250.965" x2="43.2" y2="250.965" stroke="#000" stroke-width="0.9" />
<line x1="41.2" y1="245.81" x2="43.2" y2="245.81" stroke="#000" stroke-width="0.9" />
<line x1="41.2" y1="240.655" x2="43.2" y2="240.655" stroke="#000" stroke-width="0.9" />
<line x1="49" y1="338.6" x2="49" y2="341.6" stroke="#000" stroke-width="1" />
<text x="49" y="352.6" font-size="7.8" text-anchor="middle" fill="#000" stroke="#000" stroke-width="0.22">-10<tspan font-size="6.08" dy="-2.9">2</tspan></text>
<line x1="68" y1="338.6" x2="68" y2="341.6" stroke="#000" stroke-width="1" />
<text x="68" y="352.6" font-size="7.8" text-anchor="middle" fill="#000" stroke="#000" stroke-width="0.22">-10<tspan font-size="6.08" dy="-2.9">1</tspan></text>
<line x1="85" y1="338.6" x2="85" y2="341.6" stroke="#000" stroke-width="1" />
<text x="85" y="352.6" font-size="7.8" text-anchor="middle" fill="#000" stroke="#000" stroke-width="0.22">10<tspan font-size="6.08" dy="-2.9">2</tspan></text>
<line x1="130" y1="338.6" x2="130" y2="341.6" stroke="#000" stroke-width="1" />
<text x="130" y="352.6" font-size="7.8" text-anchor="middle" fill="#000" stroke="#000" stroke-width="0.22">10<tspan font-size="6.08" dy="-2.9">3</tspan></text>
<line x1="173" y1="338.6" x2="173" y2="341.6" stroke="#000" stroke-width="1" />
<text x="173" y="352.6" font-size="7.8" text-anchor="middle" fill="#000" stroke="#000" stroke-width="0.22">10<tspan font-size="6.08" dy="-2.9">4</tspan></text>
<line x1="215.5" y1="338.6" x2="215.5" y2="341.6" stroke="#000" stroke-width="1" />
<text x="215.5" y="352.6" font-size="7.8" text-anchor="middle" fill="#000" stroke="#000" stroke-width="0.22">10<tspan font-size="6.08" dy="-2.9">5</tspan></text>
<line x1="98.54634980487916" y1="338.6" x2="98.54634980487916" y2="340.8" stroke="#000" stroke-width="0.8" />
<line x1="106.47045646238482" y1="338.6" x2="106.47045646238482" y2="340.8" stroke="#000" stroke-width="0.8" />
<line x1="112.09269960975831" y1="338.6" x2="112.09269960975831" y2="340.8" stroke="#000" stroke-width="0.8" />
<line x1="116.45365019512084" y1="338.6" x2="116.45365019512084" y2="340.8" stroke="#000" stroke-width="0.8" />
<line x1="120.01680626726397" y1="338.6" x2="120.01680626726397" y2="340.8" stroke="#000" stroke-width="0.8" />
<line x1="123.02941180064155" y1="338.6" x2="123.02941180064155" y2="340.8" stroke="#000" stroke-width="0.8" />
<line x1="125.63904941463747" y1="338.6" x2="125.63904941463747" y2="340.8" stroke="#000" stroke-width="0.8" />
<line x1="127.94091292476962" y1="338.6" x2="127.94091292476962" y2="340.8" stroke="#000" stroke-width="0.8" />
<line x1="142.9442898135512" y1="338.6" x2="142.9442898135512" y2="340.8" stroke="#000" stroke-width="0.8" />
<line x1="150.5162139529455" y1="338.6" x2="150.5162139529455" y2="340.8" stroke="#000" stroke-width="0.8" />
<line x1="155.8885796271024" y1="338.6" x2="155.8885796271024" y2="340.8" stroke="#000" stroke-width="0.8" />
<line x1="160.0557101864488" y1="338.6" x2="160.0557101864488" y2="340.8" stroke="#000" stroke-width="0.8" />
<line x1="163.46050376649669" y1="338.6" x2="163.46050376649669" y2="340.8" stroke="#000" stroke-width="0.8" />
<line x1="166.33921572061303" y1="338.6" x2="166.33921572061303" y2="340.8" stroke="#000" stroke-width="0.8" />
<line x1="168.83286944065358" y1="338.6" x2="168.83286944065358" y2="340.8" stroke="#000" stroke-width="0.8" />
<line x1="171.03242790589098" y1="338.6" x2="171.03242790589098" y2="340.8" stroke="#000" stroke-width="0.8" />
<line x1="185.7937748157192" y1="338.6" x2="185.7937748157192" y2="340.8" stroke="#000" stroke-width="0.8" />
<line x1="193.27765332558565" y1="338.6" x2="193.27765332558565" y2="340.8" stroke="#000" stroke-width="0.8" />
<line x1="198.5875496314384" y1="338.6" x2="198.5875496314384" y2="340.8" stroke="#000" stroke-width="0.8" />
<line x1="202.7062251842808" y1="338.6" x2="202.7062251842808" y2="340.8" stroke="#000" stroke-width="0.8" />
<line x1="206.07142814130486" y1="338.6" x2="206.07142814130486" y2="340.8" stroke="#000" stroke-width="0.8" />
<line x1="208.9166667006059" y1="338.6" x2="208.9166667006059" y2="340.8" stroke="#000" stroke-width="0.8" />
<line x1="211.3813244471576" y1="338.6" x2="211.3813244471576" y2="340.8" stroke="#000" stroke-width="0.8" />
<line x1="213.5553066511713" y1="338.6" x2="213.5553066511713" y2="340.8" stroke="#000" stroke-width="0.8" />
<line x1="52" y1="338.6" x2="52" y2="340.8" stroke="#000" stroke-width="0.8" />
<line x1="55" y1="338.6" x2="55" y2="340.8" stroke="#000" stroke-width="0.8" />
<line x1="58" y1="338.6" x2="58" y2="340.8" stroke="#000" stroke-width="0.8" />
<line x1="61" y1="338.6" x2="61" y2="340.8" stroke="#000" stroke-width="0.8" />
<line x1="63" y1="338.6" x2="63" y2="340.8" stroke="#000" stroke-width="0.8" />
<line x1="65" y1="338.6" x2="65" y2="340.8" stroke="#000" stroke-width="0.8" />
<line x1="70" y1="338.6" x2="70" y2="340.8" stroke="#000" stroke-width="0.8" />
<line x1="72" y1="338.6" x2="72" y2="340.8" stroke="#000" stroke-width="0.8" />
<line x1="74" y1="338.6" x2="74" y2="340.8" stroke="#000" stroke-width="0.8" />
<line x1="76" y1="338.6" x2="76" y2="340.8" stroke="#000" stroke-width="0.8" />
<line x1="78" y1="338.6" x2="78" y2="340.8" stroke="#000" stroke-width="0.8" />
<line x1="80" y1="338.6" x2="80" y2="340.8" stroke="#000" stroke-width="0.8" />
<line x1="82" y1="338.6" x2="82" y2="340.8" stroke="#000" stroke-width="0.8" />
<text transform="translate(27.5,286.9) rotate(-90) scale(0.86,1)" font-size="10.2" text-anchor="middle" font-weight="normal" fill="#000" stroke="#000" stroke-width="0.22">Count</text>
<text transform="translate(50.4,365.3) scale(0.785,1)" font-size="10.2" text-anchor="start" font-weight="normal" fill="#000" stroke="#000" stroke-width="0.22">KKO</text>
<line x1="70.5" y1="362.2" x2="225.5" y2="362.2" stroke="#000" stroke-width="1.4" />
<path d="M230.5,362.2 L223.9,359.2 L225.1,362.2 L223.9,365.2 Z" fill="#000"/>
<path d="M289.60,158.80 L289.76,158.69 L289.97,158.56 L290.23,158.39 L290.53,158.18 L290.89,157.92 L291.30,157.60 L291.80,157.24 L292.39,156.84 L293.03,156.39 L293.68,155.88 L294.32,155.29 L294.90,154.60 L295.43,153.80 L295.94,152.89 L296.42,151.91 L296.90,150.86 L297.35,149.79 L297.80,148.70 L298.23,147.64 L298.64,146.60 L299.04,145.52 L299.43,144.36 L299.81,143.07 L300.20,141.60 L300.59,139.91 L300.99,138.01 L301.39,135.99 L301.77,133.91 L302.15,131.82 L302.50,129.80 L302.83,127.85 L303.14,125.91 L303.44,123.98 L303.73,122.02 L304.02,120.04 L304.30,118.00 L304.58,115.90 L304.85,113.74 L305.11,111.54 L305.37,109.34 L305.64,107.15 L305.90,105.00 L306.14,103.08 L306.36,101.40 L306.57,99.73 L306.82,97.85 L307.12,95.52 L307.50,92.50 L307.98,88.57 L308.55,83.87 L309.18,78.71 L309.83,73.43 L310.48,68.35 L311.10,63.80 L311.69,59.66 L312.27,55.64 L312.86,51.83 L313.45,48.28 L314.06,45.08 L314.70,42.30 L315.37,39.86 L316.07,37.67 L316.79,35.84 L317.52,34.43 L318.26,33.52 L319.00,33.20 L319.76,33.52 L320.55,34.43 L321.34,35.84 L322.13,37.67 L322.89,39.86 L323.60,42.30 L324.26,45.08 L324.87,48.28 L325.46,51.82 L326.04,55.64 L326.61,59.66 L327.20,63.80 L327.80,68.17 L328.40,72.83 L329.00,77.70 L329.60,82.67 L330.20,87.63 L330.80,92.50 L331.42,97.47 L332.06,102.66 L332.69,107.84 L333.31,112.81 L333.89,117.34 L334.40,121.20 L334.84,124.30 L335.23,126.80 L335.58,128.85 L335.90,130.63 L336.20,132.29 L336.50,134.00 L336.78,135.70 L337.03,137.26 L337.26,138.69 L337.49,140.06 L337.73,141.38 L338.00,142.70 L338.31,144.02 L338.64,145.31 L338.99,146.57 L339.34,147.77 L339.68,148.92 L340.00,150.00 L340.29,151.01 L340.55,151.95 L340.81,152.83 L341.06,153.66 L341.32,154.45 L341.60,155.20 L341.92,155.93 L342.28,156.65 L342.65,157.32 L343.00,157.93 L343.29,158.43 L343.50,158.80 L289.60,158.80" fill="#646464" stroke="none" stroke-width="1" />
<path d="M341.00,158.80 L341.56,158.62 L342.33,158.36 L343.26,158.06 L344.30,157.73 L345.40,157.40 L346.59,157.08 L347.91,156.77 L349.31,156.43 L350.72,156.04 L352.10,155.60 L353.46,155.10 L354.84,154.56 L356.21,153.97 L357.54,153.32 L358.80,152.60 L360.00,151.76 L361.15,150.80 L362.25,149.80 L363.28,148.84 L364.20,148.00 L364.98,147.35 L365.64,146.83 L366.23,146.34 L366.83,145.77 L367.50,145.00 L368.26,144.02 L369.05,142.89 L369.87,141.65 L370.69,140.34 L371.50,139.00 L372.31,137.64 L373.12,136.23 L373.94,134.75 L374.73,133.18 L375.50,131.50 L376.23,129.66 L376.94,127.68 L377.63,125.62 L378.31,123.54 L379.00,121.50 L379.69,119.51 L380.37,117.52 L381.05,115.54 L381.73,113.53 L382.40,111.50 L383.07,109.38 L383.74,107.19 L384.41,105.01 L385.06,102.92 L385.70,101.00 L386.32,99.27 L386.92,97.66 L387.51,96.18 L388.10,94.79 L388.70,93.50 L389.30,92.30 L389.90,91.20 L390.49,90.20 L391.09,89.30 L391.70,88.50 L392.32,87.80 L392.96,87.19 L393.60,86.68 L394.22,86.28 L394.80,86.00 L395.34,85.84 L395.85,85.80 L396.34,85.87 L396.82,86.04 L397.30,86.30 L397.77,86.63 L398.22,87.05 L398.66,87.57 L399.12,88.21 L399.60,89.00 L400.13,89.99 L400.68,91.16 L401.25,92.44 L401.80,93.75 L402.30,95.00 L402.73,96.13 L403.11,97.19 L403.48,98.29 L403.86,99.52 L404.30,101.00 L404.80,102.77 L405.34,104.77 L405.91,106.91 L406.50,109.11 L407.10,111.30 L407.71,113.51 L408.35,115.79 L409.00,118.08 L409.65,120.34 L410.30,122.50 L410.94,124.55 L411.58,126.53 L412.22,128.46 L412.86,130.34 L413.50,132.20 L414.13,134.03 L414.75,135.82 L415.38,137.58 L416.02,139.31 L416.70,141.00 L417.42,142.69 L418.18,144.37 L418.96,146.00 L419.74,147.56 L420.50,149.00 L421.25,150.31 L422.01,151.52 L422.75,152.65 L423.49,153.70 L424.20,154.70 L424.94,155.69 L425.71,156.65 L426.44,157.53 L427.06,158.27 L427.50,158.80 L341.00,158.80" fill="#b3b3b3" stroke="none" stroke-width="1" />
<path d="M337.00,158.40 L337.37,158.36 L337.87,158.32 L338.48,158.25 L339.20,158.15 L340.00,158.00 L340.91,157.80 L341.92,157.56 L343.03,157.28 L344.20,156.96 L345.40,156.60 L346.66,156.20 L347.99,155.76 L349.36,155.27 L350.74,154.75 L352.10,154.20 L353.46,153.63 L354.84,153.05 L356.21,152.41 L357.54,151.71 L358.80,150.90 L359.96,149.98 L361.06,148.95 L362.11,147.85 L363.15,146.70 L364.20,145.50 L365.29,144.25 L366.39,142.95 L367.48,141.59 L368.52,140.21 L369.50,138.80 L370.38,137.40 L371.19,135.98 L371.96,134.53 L372.71,133.01 L373.50,131.40 L374.32,129.69 L375.14,127.89 L375.96,126.02 L376.78,124.09 L377.60,122.10 L378.43,120.02 L379.26,117.84 L380.09,115.62 L380.88,113.42 L381.60,111.30 L382.24,109.25 L382.81,107.23 L383.34,105.25 L383.86,103.34 L384.40,101.50 L384.95,99.74 L385.48,98.04 L386.02,96.41 L386.58,94.86 L387.20,93.40 L387.89,92.02 L388.64,90.72 L389.41,89.51 L390.18,88.40 L390.90,87.40 L391.58,86.51 L392.25,85.72 L392.89,85.04 L393.51,84.47 L394.10,84.00 L394.64,83.64 L395.14,83.40 L395.61,83.26 L396.09,83.22 L396.60,83.30 L397.14,83.48 L397.71,83.78 L398.28,84.18 L398.85,84.68 L399.40,85.30 L399.93,85.97 L400.44,86.69 L400.96,87.55 L401.47,88.63 L402.00,90.00 L402.54,91.77 L403.08,93.90 L403.63,96.21 L404.20,98.56 L404.80,100.80 L405.43,102.91 L406.09,104.99 L406.76,107.06 L407.44,109.16 L408.10,111.30 L408.75,113.52 L409.39,115.80 L410.02,118.09 L410.66,120.34 L411.30,122.50 L411.94,124.55 L412.58,126.53 L413.22,128.46 L413.86,130.34 L414.50,132.20 L415.13,134.03 L415.74,135.82 L416.36,137.58 L417.01,139.31 L417.70,141.00 L418.45,142.69 L419.24,144.37 L420.06,146.00 L420.89,147.56 L421.70,149.00 L422.50,150.33 L423.30,151.58 L424.09,152.73 L424.89,153.78 L425.70,154.70 L426.53,155.50 L427.38,156.18 L428.22,156.75 L429.04,157.22 L429.80,157.60 L429.96,157.84 L429.52,157.95 L429.33,157.98 L430.21,157.98 L433.00,158.00 L438.16,158.04 L445.13,158.07 L453.22,158.08 L461.74,158.09 L470.00,158.10 L478.75,158.11 L488.46,158.11 L497.98,158.10 L506.21,158.10 L512.00,158.10" fill="none" stroke="#000" stroke-width="1.7" stroke-dasharray="4.6,2.6"/>
<path d="M290.50,158.60 L291.05,158.51 L291.82,158.41 L292.73,158.29 L293.68,158.12 L294.60,157.89 L295.40,157.60 L296.08,157.24 L296.70,156.81 L297.29,156.33 L297.86,155.80 L298.42,155.22 L299.00,154.60 L299.59,153.96 L300.17,153.29 L300.75,152.58 L301.33,151.80 L301.91,150.91 L302.50,149.90 L303.10,148.77 L303.72,147.53 L304.34,146.19 L304.95,144.76 L305.54,143.23 L306.10,141.60 L306.63,139.84 L307.14,137.93 L307.62,135.92 L308.10,133.86 L308.55,131.81 L309.00,129.80 L309.43,127.82 L309.83,125.84 L310.22,123.85 L310.60,121.87 L310.99,119.92 L311.40,118.00 L311.82,116.07 L312.24,114.11 L312.67,112.17 L313.11,110.30 L313.55,108.56 L314.00,107.00 L314.46,105.62 L314.92,104.37 L315.39,103.25 L315.87,102.24 L316.34,101.33 L316.80,100.50 L317.26,99.77 L317.72,99.16 L318.18,98.64 L318.63,98.20 L319.07,97.83 L319.50,97.50 L319.91,97.23 L320.30,97.03 L320.68,96.89 L321.06,96.81 L321.43,96.78 L321.80,96.80 L322.16,96.82 L322.50,96.84 L322.84,96.92 L323.20,97.10 L323.58,97.44 L324.00,98.00 L324.47,98.72 L324.98,99.56 L325.51,100.56 L326.07,101.77 L326.63,103.23 L327.20,105.00 L327.78,107.22 L328.37,109.88 L328.97,112.80 L329.59,115.79 L330.20,118.65 L330.80,121.20 L331.41,123.47 L332.03,125.61 L332.64,127.62 L333.25,129.53 L333.84,131.32 L334.40,133.00 L334.93,134.56 L335.45,135.99 L335.94,137.30 L336.42,138.53 L336.87,139.69 L337.30,140.80 L337.69,141.86 L338.04,142.83 L338.37,143.74 L338.69,144.59 L339.03,145.41 L339.40,146.20 L339.79,146.96 L340.18,147.69 L340.58,148.37 L341.01,149.01 L341.48,149.62 L342.00,150.20 L342.58,150.73 L343.20,151.22 L343.87,151.67 L344.56,152.10 L345.28,152.51 L346.00,152.90 L346.72,153.28 L347.44,153.64 L348.18,153.99 L348.96,154.31 L349.79,154.62 L350.70,154.90 L351.68,155.16 L352.73,155.40 L353.84,155.61 L354.99,155.81 L356.18,156.01 L357.40,156.20 L358.59,156.39 L359.76,156.57 L360.96,156.74 L362.27,156.91 L363.76,157.06 L365.50,157.20 L367.48,157.33 L369.66,157.44 L372.01,157.55 L374.52,157.64 L377.19,157.73 L380.00,157.80 L382.90,157.86 L385.89,157.90 L389.03,157.94 L392.39,157.96 L396.02,157.98 L400.00,158.00 L404.31,158.01 L408.89,158.01 L413.75,158.01 L418.89,158.01 L424.31,158.00 L430.00,158.00 L436.06,158.00 L442.52,158.00 L449.25,158.00 L456.15,158.00 L463.10,158.00 L470.00,158.00 L477.37,158.00 L485.41,158.00 L493.50,158.00 L501.04,158.00 L507.41,158.00 L512.00,158.00" fill="none" stroke="#000" stroke-width="1.6" stroke-dasharray="1.3,0.8"/>
<path d="M289.6,158.8 L289.6,32.6 L513.3,32.6 L513.3,158.8" fill="none" stroke="#000" stroke-width="1.2"/>
<line x1="289.0" y1="158.8" x2="513.9" y2="158.8" stroke="#000" stroke-width="1.6" />
<rect x="410" y="62.6" width="19.5" height="4.2" fill="#606060"/>
<rect x="410" y="73.8" width="19.5" height="3.9" fill="#b2b2b2"/>
<line x1="410" y1="87.8" x2="430" y2="87.8" stroke="#000" stroke-width="1.8" stroke-dasharray="5.2,2.8"/>
<line x1="410" y1="99.1" x2="430" y2="99.1" stroke="#000" stroke-width="1.8" stroke-dasharray="1.1,0.9"/>
<text x="449.6" y="47.2" font-size="7.8" text-anchor="middle" font-weight="normal" fill="#000" stroke="#000" stroke-width="0.22" >PF4/</text>
<text x="449.6" y="56.2" font-size="7.8" text-anchor="middle" font-weight="normal" fill="#000" stroke="#000" stroke-width="0.22" >heparin</text>
<text x="485.2" y="47.2" font-size="7.8" text-anchor="middle" font-weight="normal" fill="#000" stroke="#000" stroke-width="0.22" >Polyclonal</text>
<text x="485.2" y="56.2" font-size="7.8" text-anchor="middle" font-weight="normal" fill="#000" stroke="#000" stroke-width="0.22" >Antibody</text>
<text x="449.5" y="67.0" font-size="7.6" text-anchor="middle" font-weight="normal" fill="#000" stroke="#000" stroke-width="0.22" >-</text>
<text x="485.2" y="67.0" font-size="7.8" text-anchor="middle" font-weight="normal" fill="#000" stroke="#000" stroke-width="0.22" >-</text>
<text x="449.5" y="79.30000000000001" font-size="6.6" text-anchor="middle" font-weight="normal" fill="#000" stroke="#000" stroke-width="0.22" >+</text>
<text x="485.2" y="78.4" font-size="7.8" text-anchor="middle" font-weight="normal" fill="#000" stroke="#000" stroke-width="0.22" >-</text>
<text x="449.5" y="91.10000000000001" font-size="6.6" text-anchor="middle" font-weight="normal" fill="#000" stroke="#000" stroke-width="0.22" >+</text>
<text x="485.2" y="90.2" font-size="7.8" text-anchor="middle" font-weight="normal" fill="#000" stroke="#000" stroke-width="0.22" >Control IgG</text>
<text x="449.5" y="102.7" font-size="6.6" text-anchor="middle" font-weight="normal" fill="#000" stroke="#000" stroke-width="0.22" >+</text>
<text x="485.2" y="101.8" font-size="7.8" text-anchor="middle" font-weight="normal" fill="#000" stroke="#000" stroke-width="0.22" >Anti-CD21</text>
<line x1="286.6" y1="158.8" x2="289.6" y2="158.8" stroke="#000" stroke-width="1" />
<text x="283.2" y="161.60000000000002" font-size="7.8" text-anchor="end" font-weight="normal" fill="#000" stroke="#000" stroke-width="0.22" >0</text>
<line x1="286.6" y1="127.25000000000001" x2="289.6" y2="127.25000000000001" stroke="#000" stroke-width="1" />
<text x="283.2" y="130.05" font-size="7.8" text-anchor="end" font-weight="normal" fill="#000" stroke="#000" stroke-width="0.22" >3</text>
<line x1="286.6" y1="95.70000000000002" x2="289.6" y2="95.70000000000002" stroke="#000" stroke-width="1" />
<text x="283.2" y="98.50000000000001" font-size="7.8" text-anchor="end" font-weight="normal" fill="#000" stroke="#000" stroke-width="0.22" >6</text>
<line x1="286.6" y1="64.14999999999999" x2="289.6" y2="64.14999999999999" stroke="#000" stroke-width="1" />
<text x="283.2" y="66.94999999999999" font-size="7.8" text-anchor="end" font-weight="normal" fill="#000" stroke="#000" stroke-width="0.22" >9</text>
<line x1="286.6" y1="32.60000000000001" x2="289.6" y2="32.60000000000001" stroke="#000" stroke-width="1" />
<text x="283.2" y="35.400000000000006" font-size="7.8" text-anchor="end" font-weight="normal" fill="#000" stroke="#000" stroke-width="0.22" >12</text>
<line x1="287.6" y1="158.8" x2="289.6" y2="158.8" stroke="#000" stroke-width="0.9" />
<line x1="287.6" y1="150.91250000000002" x2="289.6" y2="150.91250000000002" stroke="#000" stroke-width="0.9" />
<line x1="287.6" y1="143.025" x2="289.6" y2="143.025" stroke="#000" stroke-width="0.9" />
<line x1="287.6" y1="135.13750000000002" x2="289.6" y2="135.13750000000002" stroke="#000" stroke-width="0.9" />
<line x1="287.6" y1="127.25" x2="289.6" y2="127.25" stroke="#000" stroke-width="0.9" />
<line x1="287.6" y1="119.36250000000001" x2="289.6" y2="119.36250000000001" stroke="#000" stroke-width="0.9" />
<line x1="287.6" y1="111.47500000000001" x2="289.6" y2="111.47500000000001" stroke="#000" stroke-width="0.9" />
<line x1="287.6" y1="103.5875" x2="289.6" y2="103.5875" stroke="#000" stroke-width="0.9" />
<line x1="287.6" y1="95.7" x2="289.6" y2="95.7" stroke="#000" stroke-width="0.9" />
<line x1="287.6" y1="87.8125" x2="289.6" y2="87.8125" stroke="#000" stroke-width="0.9" />
<line x1="287.6" y1="79.925" x2="289.6" y2="79.925" stroke="#000" stroke-width="0.9" />
<line x1="287.6" y1="72.0375" x2="289.6" y2="72.0375" stroke="#000" stroke-width="0.9" />
<line x1="287.6" y1="64.15" x2="289.6" y2="64.15" stroke="#000" stroke-width="0.9" />
<line x1="287.6" y1="56.2625" x2="289.6" y2="56.2625" stroke="#000" stroke-width="0.9" />
<line x1="287.6" y1="48.375" x2="289.6" y2="48.375" stroke="#000" stroke-width="0.9" />
<line x1="287.6" y1="40.4875" x2="289.6" y2="40.4875" stroke="#000" stroke-width="0.9" />
<line x1="297.5" y1="158.8" x2="297.5" y2="161.8" stroke="#000" stroke-width="1" />
<text x="297.5" y="172.3" font-size="7.8" text-anchor="middle" fill="#000" stroke="#000" stroke-width="0.22">-10<tspan font-size="6.08" dy="-2.9">2</tspan></text>
<line x1="317.3" y1="158.8" x2="317.3" y2="161.8" stroke="#000" stroke-width="1" />
<text x="317.3" y="172.3" font-size="7.8" text-anchor="middle" fill="#000" stroke="#000" stroke-width="0.22">-10<tspan font-size="6.08" dy="-2.9">1</tspan></text>
<line x1="337" y1="158.8" x2="337" y2="161.8" stroke="#000" stroke-width="1" />
<text x="337" y="172.3" font-size="7.8" text-anchor="middle" fill="#000" stroke="#000" stroke-width="0.22">10<tspan font-size="6.08" dy="-2.9">2</tspan></text>
<line x1="391.5" y1="158.8" x2="391.5" y2="161.8" stroke="#000" stroke-width="1" />
<text x="391.5" y="172.3" font-size="7.8" text-anchor="middle" fill="#000" stroke="#000" stroke-width="0.22">10<tspan font-size="6.08" dy="-2.9">3</tspan></text>
<line x1="442" y1="158.8" x2="442" y2="161.8" stroke="#000" stroke-width="1" />
<text x="442" y="172.3" font-size="7.8" text-anchor="middle" fill="#000" stroke="#000" stroke-width="0.22">10<tspan font-size="6.08" dy="-2.9">4</tspan></text>
<line x1="492" y1="158.8" x2="492" y2="161.8" stroke="#000" stroke-width="1" />
<text x="492" y="172.3" font-size="7.8" text-anchor="middle" fill="#000" stroke="#000" stroke-width="0.22">10<tspan font-size="6.08" dy="-2.9">5</tspan></text>
<line x1="353.40613476368696" y1="158.8" x2="353.40613476368696" y2="161.0" stroke="#000" stroke-width="0.8" />
<line x1="363.0031083822216" y1="158.8" x2="363.0031083822216" y2="161.0" stroke="#000" stroke-width="0.8" />
<line x1="369.8122695273739" y1="158.8" x2="369.8122695273739" y2="161.0" stroke="#000" stroke-width="0.8" />
<line x1="375.09386523631304" y1="158.8" x2="375.09386523631304" y2="161.0" stroke="#000" stroke-width="0.8" />
<line x1="379.4092431459086" y1="158.8" x2="379.4092431459086" y2="161.0" stroke="#000" stroke-width="0.8" />
<line x1="383.057843180777" y1="158.8" x2="383.057843180777" y2="161.0" stroke="#000" stroke-width="0.8" />
<line x1="386.2184042910609" y1="158.8" x2="386.2184042910609" y2="161.0" stroke="#000" stroke-width="0.8" />
<line x1="389.0062167644432" y1="158.8" x2="389.0062167644432" y2="161.0" stroke="#000" stroke-width="0.8" />
<line x1="406.70201478103104" y1="158.8" x2="406.70201478103104" y2="161.0" stroke="#000" stroke-width="0.8" />
<line x1="415.594623363343" y1="158.8" x2="415.594623363343" y2="161.0" stroke="#000" stroke-width="0.8" />
<line x1="421.9040295620621" y1="158.8" x2="421.9040295620621" y2="161.0" stroke="#000" stroke-width="0.8" />
<line x1="426.79798521896896" y1="158.8" x2="426.79798521896896" y2="161.0" stroke="#000" stroke-width="0.8" />
<line x1="430.796638144374" y1="158.8" x2="430.796638144374" y2="161.0" stroke="#000" stroke-width="0.8" />
<line x1="434.17745102071996" y1="158.8" x2="434.17745102071996" y2="161.0" stroke="#000" stroke-width="0.8" />
<line x1="437.1060443430931" y1="158.8" x2="437.1060443430931" y2="161.0" stroke="#000" stroke-width="0.8" />
<line x1="439.6892467266859" y1="158.8" x2="439.6892467266859" y2="161.0" stroke="#000" stroke-width="0.8" />
<line x1="457.05149978319906" y1="158.8" x2="457.05149978319906" y2="161.0" stroke="#000" stroke-width="0.8" />
<line x1="465.85606273598313" y1="158.8" x2="465.85606273598313" y2="161.0" stroke="#000" stroke-width="0.8" />
<line x1="472.1029995663981" y1="158.8" x2="472.1029995663981" y2="161.0" stroke="#000" stroke-width="0.8" />
<line x1="476.94850021680094" y1="158.8" x2="476.94850021680094" y2="161.0" stroke="#000" stroke-width="0.8" />
<line x1="480.9075625191822" y1="158.8" x2="480.9075625191822" y2="161.0" stroke="#000" stroke-width="0.8" />
<line x1="484.25490200071283" y1="158.8" x2="484.25490200071283" y2="161.0" stroke="#000" stroke-width="0.8" />
<line x1="487.1544993495972" y1="158.8" x2="487.1544993495972" y2="161.0" stroke="#000" stroke-width="0.8" />
<line x1="489.71212547196626" y1="158.8" x2="489.71212547196626" y2="161.0" stroke="#000" stroke-width="0.8" />
<line x1="300" y1="158.8" x2="300" y2="161.0" stroke="#000" stroke-width="0.8" />
<line x1="303" y1="158.8" x2="303" y2="161.0" stroke="#000" stroke-width="0.8" />
<line x1="306" y1="158.8" x2="306" y2="161.0" stroke="#000" stroke-width="0.8" />
<line x1="309" y1="158.8" x2="309" y2="161.0" stroke="#000" stroke-width="0.8" />
<line x1="312" y1="158.8" x2="312" y2="161.0" stroke="#000" stroke-width="0.8" />
<line x1="315" y1="158.8" x2="315" y2="161.0" stroke="#000" stroke-width="0.8" />
<line x1="320" y1="158.8" x2="320" y2="161.0" stroke="#000" stroke-width="0.8" />
<line x1="322" y1="158.8" x2="322" y2="161.0" stroke="#000" stroke-width="0.8" />
<line x1="324" y1="158.8" x2="324" y2="161.0" stroke="#000" stroke-width="0.8" />
<line x1="326" y1="158.8" x2="326" y2="161.0" stroke="#000" stroke-width="0.8" />
<line x1="328" y1="158.8" x2="328" y2="161.0" stroke="#000" stroke-width="0.8" />
<line x1="330" y1="158.8" x2="330" y2="161.0" stroke="#000" stroke-width="0.8" />
<line x1="332" y1="158.8" x2="332" y2="161.0" stroke="#000" stroke-width="0.8" />
<line x1="334" y1="158.8" x2="334" y2="161.0" stroke="#000" stroke-width="0.8" />
<text transform="translate(268.4,95.9) rotate(-90) scale(0.91,1)" font-size="9.7" text-anchor="middle" font-weight="normal" fill="#000" stroke="#000" stroke-width="0.22">Count</text>
<text transform="translate(295.5,185.6) scale(0.73,1)" font-size="10.5" text-anchor="start" font-weight="normal" fill="#000" stroke="#000" stroke-width="0.22">KKO</text>
<line x1="315.2" y1="183.0" x2="506.8" y2="183.0" stroke="#000" stroke-width="1.4" />
<path d="M511.8,183.0 L505.2,180.0 L506.40000000000003,183.0 L505.2,186.0 Z" fill="#000"/>
<line x1="315.0" y1="325.5" x2="318.5" y2="325.5" stroke="#000" stroke-width="1" />
<text x="312.6" y="328.3" font-size="7.8" text-anchor="end" font-weight="normal" fill="#000" stroke="#000" stroke-width="0.22" >0</text>
<line x1="315.0" y1="286.4666666666667" x2="318.5" y2="286.4666666666667" stroke="#000" stroke-width="1" />
<text x="312.6" y="289.2666666666667" font-size="7.8" text-anchor="end" font-weight="normal" fill="#000" stroke="#000" stroke-width="0.22" >50</text>
<line x1="315.0" y1="247.43333333333334" x2="318.5" y2="247.43333333333334" stroke="#000" stroke-width="1" />
<text x="312.6" y="250.23333333333335" font-size="7.8" text-anchor="end" font-weight="normal" fill="#000" stroke="#000" stroke-width="0.22" >100</text>
<line x1="315.0" y1="208.4" x2="318.5" y2="208.4" stroke="#000" stroke-width="1" />
<text x="312.6" y="211.20000000000002" font-size="7.8" text-anchor="end" font-weight="normal" fill="#000" stroke="#000" stroke-width="0.22" >150</text>
<line x1="318.5" y1="205.9" x2="318.5" y2="325.5" stroke="#000" stroke-width="1.2" />
<line x1="318.5" y1="325.5" x2="498.8" y2="325.5" stroke="#000" stroke-width="1.2" />
<rect x="371" y="250.48" width="29.80000000000001" height="75.02" fill="#676767"/>
<rect x="416.2" y="251.18" width="28.80000000000001" height="74.32" fill="#676767"/>
<rect x="461.2" y="318.90" width="28.69999999999999" height="6.60" fill="#676767"/>
<line x1="379" y1="250.07793333333333" x2="393" y2="250.07793333333333" stroke="#000" stroke-width="0.9" />
<line x1="423.5" y1="250.78053333333332" x2="437.5" y2="250.78053333333332" stroke="#000" stroke-width="0.9" />
<line x1="475.6" y1="318.90336666666667" x2="475.6" y2="316.4" stroke="#000" stroke-width="1" />
<line x1="468" y1="316.3" x2="483.2" y2="316.3" stroke="#000" stroke-width="1.1" />
<line x1="341.2" y1="325.5" x2="341.2" y2="328.7" stroke="#000" stroke-width="1" />
<line x1="385.8" y1="325.5" x2="385.8" y2="328.7" stroke="#000" stroke-width="1" />
<line x1="430.6" y1="325.5" x2="430.6" y2="328.7" stroke="#000" stroke-width="1" />
<line x1="475.8" y1="325.5" x2="475.8" y2="328.7" stroke="#000" stroke-width="1" />
<line x1="386.5" y1="226.5" x2="472" y2="226.5" stroke="#000" stroke-width="1.2" />
<text x="429" y="225.4" font-size="8.4" text-anchor="middle" font-weight="bold" fill="#000" stroke="#000" stroke-width="0.22" >**</text>
<line x1="385" y1="240.8" x2="426.5" y2="240.8" stroke="#000" stroke-width="1.2" />
<text x="405.7" y="239.0" font-size="8.2" text-anchor="middle" font-weight="normal" fill="#000" stroke="#000" stroke-width="0.22" >NS</text>
<line x1="430.4" y1="240.8" x2="469.4" y2="240.8" stroke="#000" stroke-width="1.2" />
<text x="449.6" y="239.4" font-size="8.4" text-anchor="middle" font-weight="bold" fill="#000" stroke="#000" stroke-width="0.22" >**</text>
<text transform="translate(293.4,264.1) rotate(-90) scale(1.0,1)" font-size="8.8" text-anchor="middle" font-weight="normal" fill="#000" stroke="#000" stroke-width="0.22">% KKO + B cells</text>
<text transform="translate(274.8,339.7) scale(0.927,1)" font-size="8.2" text-anchor="start" font-weight="normal" fill="#000" stroke="#000" stroke-width="0.22">PF4/heparin:</text>
<text transform="translate(274.8,350.7) scale(0.927,1)" font-size="8.2" text-anchor="start" font-weight="normal" fill="#000" stroke="#000" stroke-width="0.22">Polyclonal Ab:</text>
<text x="341.2" y="338.70000000000005" font-size="7.6" text-anchor="middle" font-weight="normal" fill="#000" stroke="#000" stroke-width="0.22" >-</text>
<text x="341.2" y="350.0" font-size="7.6" text-anchor="middle" font-weight="normal" fill="#000" stroke="#000" stroke-width="0.22" >-</text>
<text x="385.8" y="339.90000000000003" font-size="7.0" text-anchor="middle" font-weight="normal" fill="#000" stroke="#000" stroke-width="0.22" >+</text>
<text x="385.8" y="350.0" font-size="7.6" text-anchor="middle" font-weight="normal" fill="#000" stroke="#000" stroke-width="0.22" >-</text>
<text x="430.6" y="339.90000000000003" font-size="7.0" text-anchor="middle" font-weight="normal" fill="#000" stroke="#000" stroke-width="0.22" >+</text>
<text x="430.6" y="350.6" font-size="7.6" text-anchor="middle" font-weight="normal" fill="#000" stroke="#000" stroke-width="0.22" >Control IgG</text>
<text x="475.8" y="339.90000000000003" font-size="7.0" text-anchor="middle" font-weight="normal" fill="#000" stroke="#000" stroke-width="0.22" >+</text>
<text x="475.8" y="350.6" font-size="7.6" text-anchor="middle" font-weight="normal" fill="#000" stroke="#000" stroke-width="0.22" >Anti-CD21</text>
</svg>
</body></html>
